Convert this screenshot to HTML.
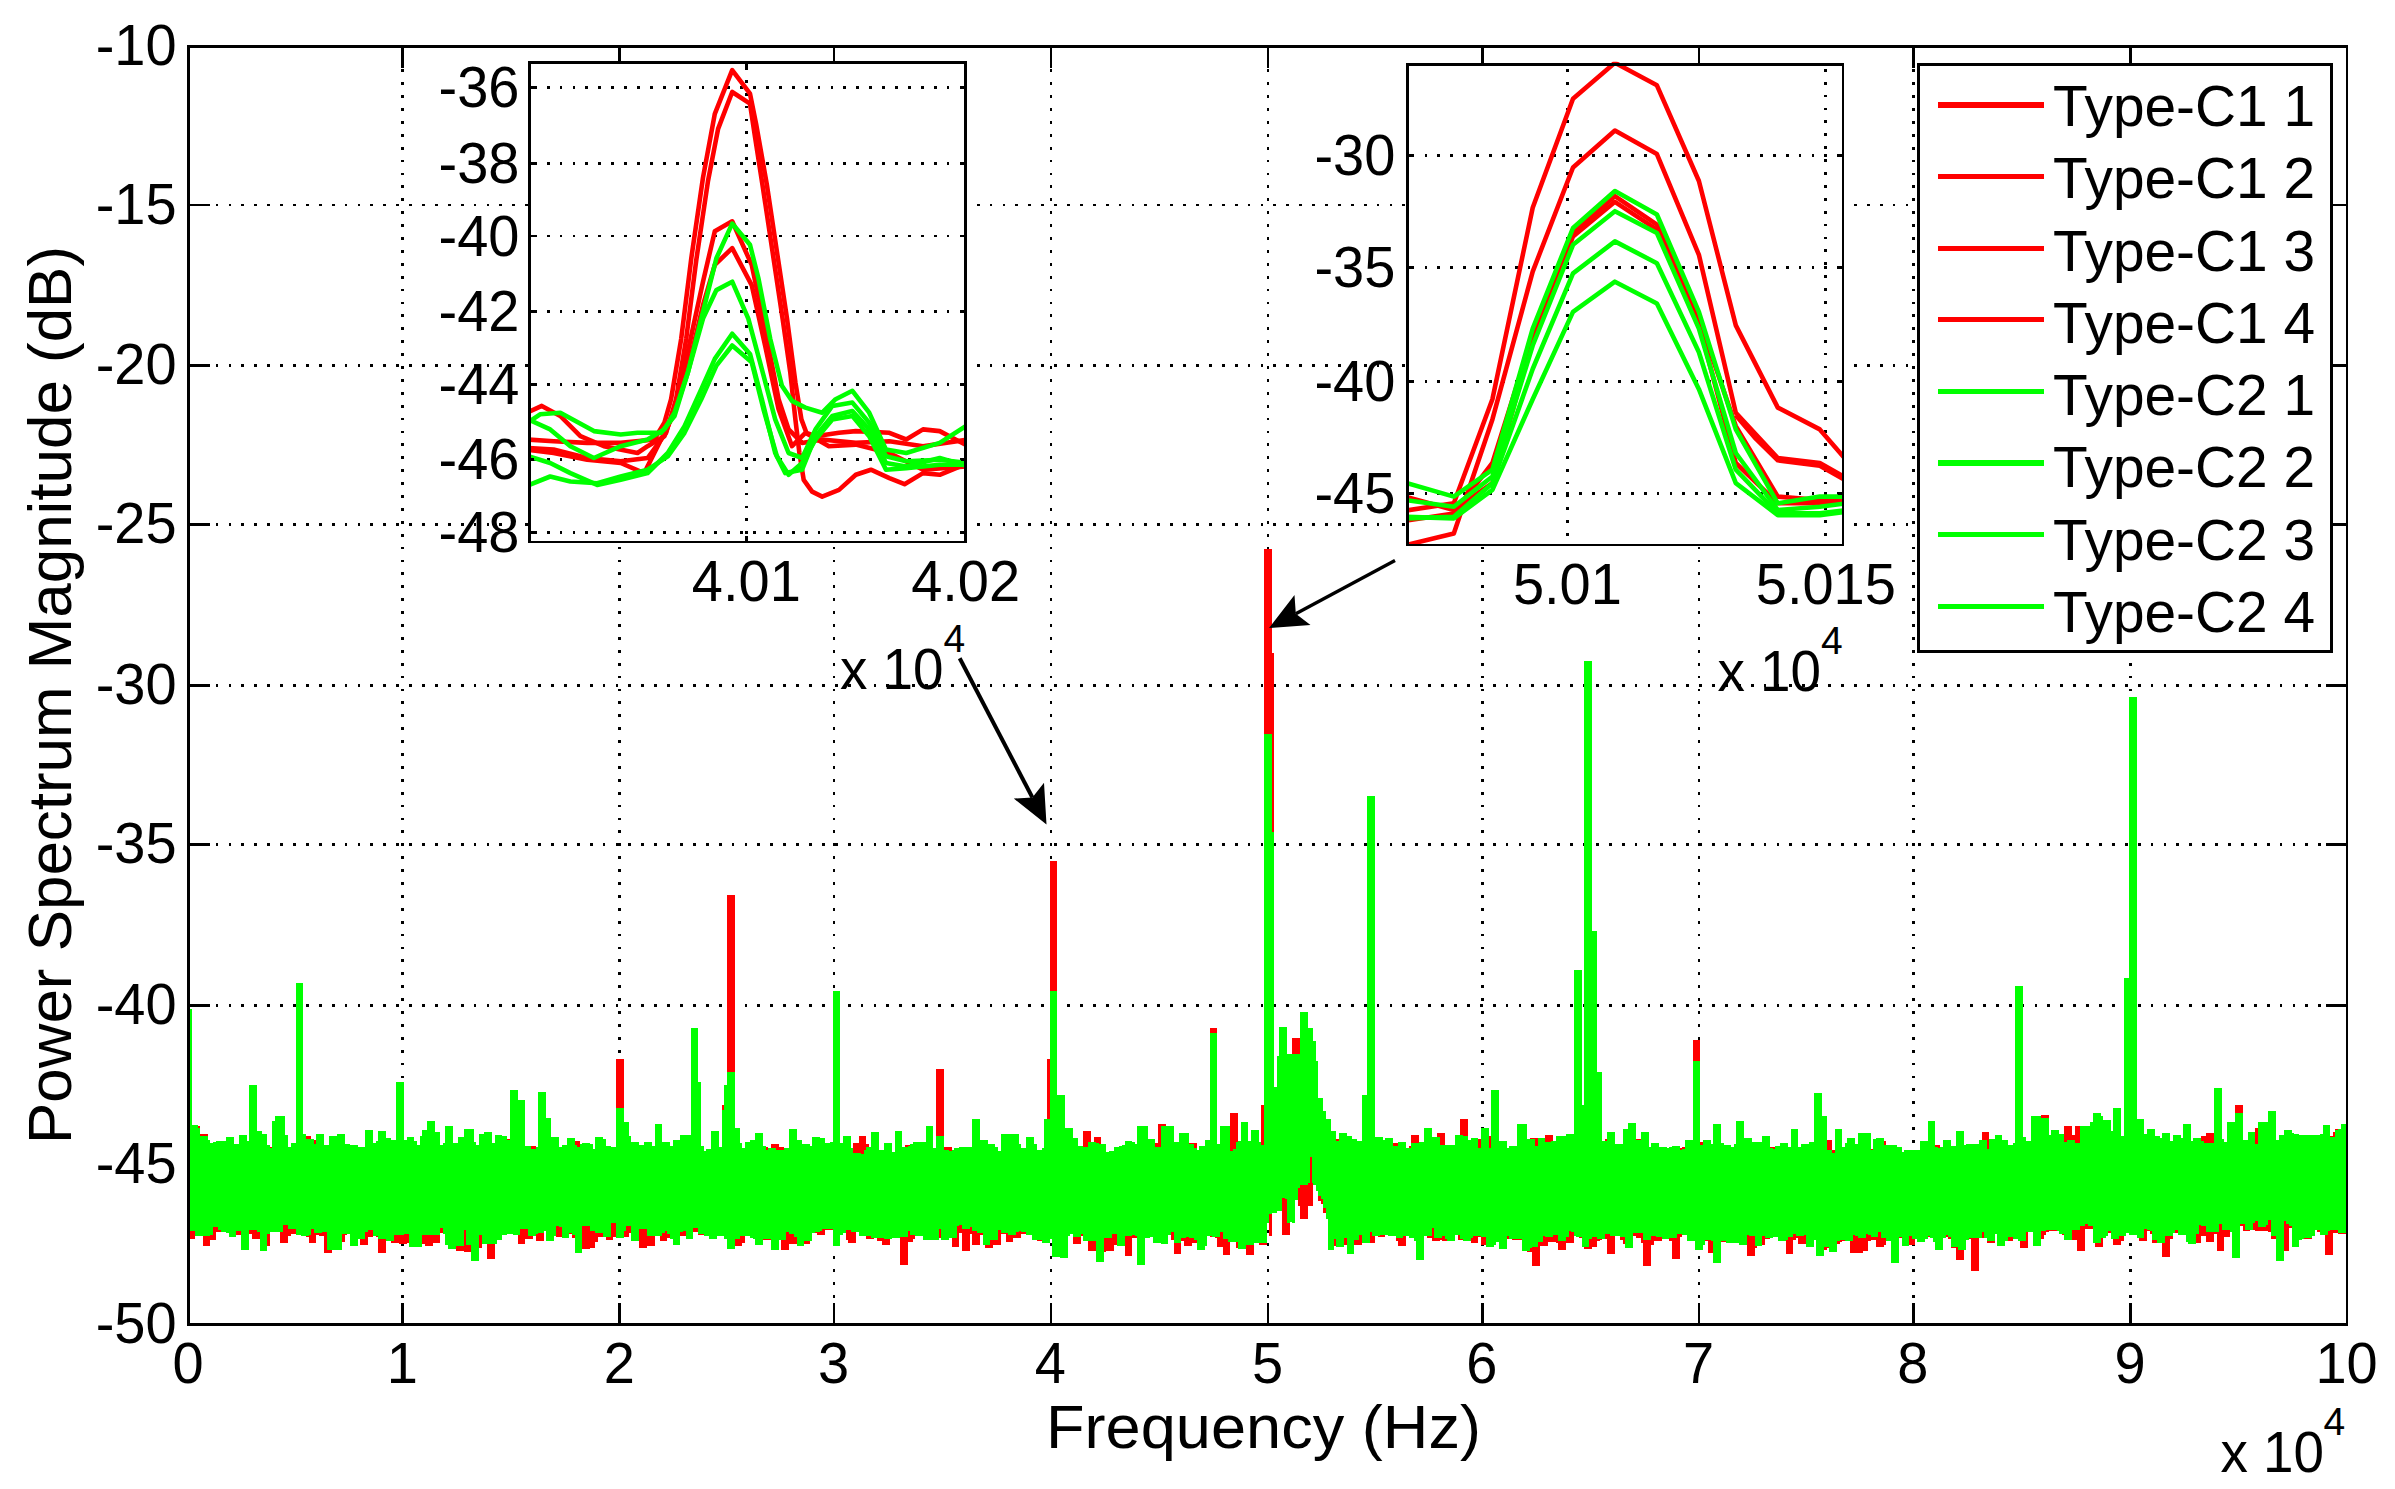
<!DOCTYPE html>
<html lang="en">
<head>
<meta charset="utf-8">
<title>Power Spectrum Magnitude</title>
<style>html,body{margin:0;padding:0;background:#fff}svg{display:block}</style>
</head>
<body>
<svg width="2395" height="1489" viewBox="0 0 2395 1489" font-family='"Liberation Sans", Arial, Helvetica, sans-serif' fill="#000">
<style>.g{stroke:#000;stroke-width:2.8;stroke-dasharray:2.8 10.1;shape-rendering:crispEdges;fill:none}.a{stroke:#000;stroke-width:2.8;shape-rendering:crispEdges;fill:none}</style>
<rect x="0" y="0" width="2395" height="1489" fill="#fff"/>
<line x1="402.7" y1="69.3" x2="402.7" y2="1300.7" class="g"/>
<line x1="619.8" y1="69.3" x2="619.8" y2="1300.7" class="g"/>
<line x1="834" y1="69.3" x2="834" y2="1300.7" class="g"/>
<line x1="1050.9" y1="69.3" x2="1050.9" y2="1300.7" class="g"/>
<line x1="1268" y1="69.3" x2="1268" y2="1300.7" class="g"/>
<line x1="1482.2" y1="69.3" x2="1482.2" y2="1300.7" class="g"/>
<line x1="1699" y1="69.3" x2="1699" y2="1300.7" class="g"/>
<line x1="1913.4" y1="69.3" x2="1913.4" y2="1300.7" class="g"/>
<line x1="2130.5" y1="69.3" x2="2130.5" y2="1300.7" class="g"/>
<line x1="215.6" y1="205" x2="2323.5" y2="205" class="g"/>
<line x1="215.6" y1="365.5" x2="2323.5" y2="365.5" class="g"/>
<line x1="215.6" y1="524.6" x2="2323.5" y2="524.6" class="g"/>
<line x1="215.6" y1="685.8" x2="2323.5" y2="685.8" class="g"/>
<line x1="215.6" y1="844.4" x2="2323.5" y2="844.4" class="g"/>
<line x1="215.6" y1="1005.3" x2="2323.5" y2="1005.3" class="g"/>
<line x1="215.6" y1="1164.3" x2="2323.5" y2="1164.3" class="g"/>
<line x1="402.7" y1="1324.2" x2="402.7" y2="1302.7" class="a"/>
<line x1="402.7" y1="46.5" x2="402.7" y2="68" class="a"/>
<line x1="619.8" y1="1324.2" x2="619.8" y2="1302.7" class="a"/>
<line x1="619.8" y1="46.5" x2="619.8" y2="68" class="a"/>
<line x1="834" y1="1324.2" x2="834" y2="1302.7" class="a"/>
<line x1="834" y1="46.5" x2="834" y2="68" class="a"/>
<line x1="1050.9" y1="1324.2" x2="1050.9" y2="1302.7" class="a"/>
<line x1="1050.9" y1="46.5" x2="1050.9" y2="68" class="a"/>
<line x1="1268" y1="1324.2" x2="1268" y2="1302.7" class="a"/>
<line x1="1268" y1="46.5" x2="1268" y2="68" class="a"/>
<line x1="1482.2" y1="1324.2" x2="1482.2" y2="1302.7" class="a"/>
<line x1="1482.2" y1="46.5" x2="1482.2" y2="68" class="a"/>
<line x1="1699" y1="1324.2" x2="1699" y2="1302.7" class="a"/>
<line x1="1699" y1="46.5" x2="1699" y2="68" class="a"/>
<line x1="1913.4" y1="1324.2" x2="1913.4" y2="1302.7" class="a"/>
<line x1="1913.4" y1="46.5" x2="1913.4" y2="68" class="a"/>
<line x1="2130.5" y1="1324.2" x2="2130.5" y2="1302.7" class="a"/>
<line x1="2130.5" y1="46.5" x2="2130.5" y2="68" class="a"/>
<line x1="188.6" y1="205" x2="210.1" y2="205" class="a"/>
<line x1="2347" y1="205" x2="2325.5" y2="205" class="a"/>
<line x1="188.6" y1="365.5" x2="210.1" y2="365.5" class="a"/>
<line x1="2347" y1="365.5" x2="2325.5" y2="365.5" class="a"/>
<line x1="188.6" y1="524.6" x2="210.1" y2="524.6" class="a"/>
<line x1="2347" y1="524.6" x2="2325.5" y2="524.6" class="a"/>
<line x1="188.6" y1="685.8" x2="210.1" y2="685.8" class="a"/>
<line x1="2347" y1="685.8" x2="2325.5" y2="685.8" class="a"/>
<line x1="188.6" y1="844.4" x2="210.1" y2="844.4" class="a"/>
<line x1="2347" y1="844.4" x2="2325.5" y2="844.4" class="a"/>
<line x1="188.6" y1="1005.3" x2="210.1" y2="1005.3" class="a"/>
<line x1="2347" y1="1005.3" x2="2325.5" y2="1005.3" class="a"/>
<line x1="188.6" y1="1164.3" x2="210.1" y2="1164.3" class="a"/>
<line x1="2347" y1="1164.3" x2="2325.5" y2="1164.3" class="a"/>
<path d="M189.8 1126 192.4 1126 192.4 1126 194.9 1126 194.9 1126 197.5 1126 197.5 1126 200.1 1126 200.1 1133.6 202.7 1133.6 202.7 1134 205.3 1134 205.3 1134 207.9 1134 207.9 1140.5 210.4 1140.5 210.4 1145 213 1145 213 1148.7 215.6 1148.7 215.6 1149.1 218.2 1149.1 218.2 1154.9 220.8 1154.9 220.8 1149.8 223.3 1149.8 223.3 1149.8 225.9 1149.8 225.9 1149.8 228.5 1149.8 228.5 1153.2 231.1 1153.2 231.1 1146 233.7 1146 233.7 1146 236.3 1146 236.3 1146 238.8 1146 238.8 1149.3 241.4 1149.3 241.4 1149.3 244 1149.3 244 1149.3 246.6 1149.3 246.6 1151.4 249.2 1151.4 249.2 1144.1 251.7 1144.1 251.7 1144.1 254.3 1144.1 254.3 1144.1 256.9 1144.1 256.9 1153.9 259.5 1153.9 259.5 1155 262.1 1155 262.1 1155 264.7 1155 264.7 1154.4 267.2 1154.4 267.2 1154.4 269.8 1154.4 269.8 1146.9 272.4 1146.9 272.4 1131 275 1131 275 1131 277.6 1131 277.6 1152.1 280.1 1152.1 280.1 1148.1 282.7 1148.1 282.7 1147.9 285.3 1147.9 285.3 1146.5 287.9 1146.5 287.9 1146.5 290.5 1146.5 290.5 1146.5 293.1 1146.5 293.1 1151.4 295.6 1151.4 295.6 1151.4 298.2 1151.4 298.2 1154.2 300.8 1154.2 300.8 1136 303.4 1136 303.4 1136 306 1136 306 1136 308.6 1136 308.6 1136 311.1 1136 311.1 1139.6 313.7 1139.6 313.7 1139.6 316.3 1139.6 316.3 1153.2 318.9 1153.2 318.9 1153.2 321.5 1153.2 321.5 1148.2 324 1148.2 324 1148.2 326.6 1148.2 326.6 1148.2 329.2 1148.2 329.2 1156.5 331.8 1156.5 331.8 1156.5 334.4 1156.5 334.4 1158.3 337 1158.3 337 1159 339.5 1159 339.5 1156.3 342.1 1156.3 342.1 1147.6 344.7 1147.6 344.7 1147.6 347.3 1147.6 347.3 1147.6 349.9 1147.6 349.9 1145.3 352.4 1145.3 352.4 1145.3 355 1145.3 355 1145.3 357.6 1145.3 357.6 1148.5 360.2 1148.5 360.2 1148.5 362.8 1148.5 362.8 1148.5 365.4 1148.5 365.4 1154.3 367.9 1154.3 367.9 1157.7 370.5 1157.7 370.5 1157.7 373.1 1157.7 373.1 1154.9 375.7 1154.9 375.7 1154.9 378.3 1154.9 378.3 1154.9 380.8 1154.9 380.8 1154.7 383.4 1154.7 383.4 1153.4 386 1153.4 386 1153.4 388.6 1153.4 388.6 1152.3 391.2 1152.3 391.2 1149.9 393.8 1149.9 393.8 1149.9 396.3 1149.9 396.3 1149.9 398.9 1149.9 398.9 1151.9 401.5 1151.9 401.5 1151.9 404.1 1151.9 404.1 1154.5 406.7 1154.5 406.7 1148.8 409.2 1148.8 409.2 1148.8 411.8 1148.8 411.8 1148.8 414.4 1148.8 414.4 1148.9 417 1148.9 417 1148.9 419.6 1148.9 419.6 1155.7 422.2 1155.7 422.2 1149.4 424.7 1149.4 424.7 1149.4 427.3 1149.4 427.3 1141.9 429.9 1141.9 429.9 1141.9 432.5 1141.9 432.5 1141.9 435.1 1141.9 435.1 1149 437.7 1149 437.7 1151 440.2 1151 440.2 1151 442.8 1151 442.8 1147.8 445.4 1147.8 445.4 1147.8 448 1147.8 448 1147.8 450.6 1147.8 450.6 1155.1 453.1 1155.1 453.1 1155.1 455.7 1155.1 455.7 1155.1 458.3 1155.1 458.3 1156.4 460.9 1156.4 460.9 1156.4 463.5 1156.4 463.5 1155.4 466.1 1155.4 466.1 1149.8 468.6 1149.8 468.6 1149.8 471.2 1149.8 471.2 1149.8 473.8 1149.8 473.8 1150.9 476.4 1150.9 476.4 1150.9 479 1150.9 479 1150.9 481.5 1150.9 481.5 1147.8 484.1 1147.8 484.1 1147.8 486.7 1147.8 486.7 1147.8 489.3 1147.8 489.3 1152.1 491.9 1152.1 491.9 1148.6 494.5 1148.6 494.5 1148.6 497 1148.6 497 1148.6 499.6 1148.6 499.6 1149.2 502.2 1149.2 502.2 1149.2 504.8 1149.2 504.8 1139.1 507.4 1139.1 507.4 1139.1 509.9 1139.1 509.9 1135.7 512.5 1135.7 512.5 1135.7 515.1 1135.7 515.1 1135.7 517.7 1135.7 517.7 1138.9 520.3 1138.9 520.3 1146.5 522.9 1146.5 522.9 1146.5 525.4 1146.5 525.4 1146.5 528 1146.5 528 1145.8 530.6 1145.8 530.6 1145.8 533.2 1145.8 533.2 1145.8 535.8 1145.8 535.8 1149.2 538.4 1149.2 538.4 1149.2 540.9 1149.2 540.9 1146.7 543.5 1146.7 543.5 1146.7 546.1 1146.7 546.1 1146.7 548.7 1146.7 548.7 1150.1 551.3 1150.1 551.3 1150.1 553.8 1150.1 553.8 1151.8 556.4 1151.8 556.4 1148.3 559 1148.3 559 1148.3 561.6 1148.3 561.6 1148.3 564.2 1148.3 564.2 1150 566.8 1150 566.8 1150 569.3 1150 569.3 1150 571.9 1150 571.9 1140.5 574.5 1140.5 574.5 1140.5 577.1 1140.5 577.1 1140.5 579.7 1140.5 579.7 1153.2 582.2 1153.2 582.2 1153.2 584.8 1153.2 584.8 1149.6 587.4 1149.6 587.4 1149.4 590 1149.4 590 1149.4 592.6 1149.4 592.6 1149.4 595.2 1149.4 595.2 1151.6 597.7 1151.6 597.7 1151.6 600.3 1151.6 600.3 1153.5 602.9 1153.5 602.9 1152 605.5 1152 605.5 1151.3 608.1 1151.3 608.1 1151.3 610.6 1151.3 610.6 1151.3 613.2 1151.3 613.2 1150 615.8 1150 615.8 1058.5 618.4 1058.5 618.4 1058.5 621 1058.5 621 1058.5 623.6 1058.5 623.6 1144.4 626.1 1144.4 626.1 1144.4 628.7 1144.4 628.7 1144.4 631.3 1144.4 631.3 1155.7 633.9 1155.7 633.9 1151.4 636.5 1151.4 636.5 1151.3 639 1151.3 639 1150.3 641.6 1150.3 641.6 1147.7 644.2 1147.7 644.2 1143.6 646.8 1143.6 646.8 1143.6 649.4 1143.6 649.4 1143.6 652 1143.6 652 1148.7 654.5 1148.7 654.5 1146.8 657.1 1146.8 657.1 1144.5 659.7 1144.5 659.7 1144.5 662.3 1144.5 662.3 1144.5 664.9 1144.5 664.9 1147.2 667.4 1147.2 667.4 1149.1 670 1149.1 670 1149.1 672.6 1149.1 672.6 1145.2 675.2 1145.2 675.2 1145.2 677.8 1145.2 677.8 1145.2 680.4 1145.2 680.4 1149 682.9 1149 682.9 1149 685.5 1149 685.5 1143.6 688.1 1143.6 688.1 1143.6 690.7 1143.6 690.7 1143.6 693.3 1143.6 693.3 1149.9 695.9 1149.9 695.9 1149.2 698.4 1149.2 698.4 1149.2 701 1149.2 701 1149.2 703.6 1149.2 703.6 1152.9 706.2 1152.9 706.2 1150.7 708.8 1150.7 708.8 1150.7 711.3 1150.7 711.3 1142.7 713.9 1142.7 713.9 1142.7 716.5 1142.7 716.5 1142.7 719.1 1142.7 719.1 1151.3 721.7 1151.3 721.7 1105 724.3 1105 724.3 1151.3 726.8 1151.3 726.8 895 729.4 895 729.4 895 732 895 732 895 734.6 895 734.6 1141.3 737.2 1141.3 737.2 1151.1 739.7 1151.1 739.7 1151.1 742.3 1151.1 742.3 1151.1 744.9 1151.1 744.9 1156.5 747.5 1156.5 747.5 1155.5 750.1 1155.5 750.1 1151.5 752.7 1151.5 752.7 1150.2 755.2 1150.2 755.2 1145 757.8 1145 757.8 1145 760.4 1145 760.4 1145 763 1145 763 1147 765.6 1147 765.6 1147 768.1 1147 768.1 1148.9 770.7 1148.9 770.7 1144.4 773.3 1144.4 773.3 1144.4 775.9 1144.4 775.9 1144.4 778.5 1144.4 778.5 1147.3 781.1 1147.3 781.1 1147.3 783.6 1147.3 783.6 1152.9 786.2 1152.9 786.2 1152.9 788.8 1152.9 788.8 1149.7 791.4 1149.7 791.4 1149.7 794 1149.7 794 1149.7 796.5 1149.7 796.5 1152 799.1 1152 799.1 1152 801.7 1152 801.7 1154.6 804.3 1154.6 804.3 1154.3 806.9 1154.3 806.9 1154.3 809.5 1154.3 809.5 1153.8 812 1153.8 812 1141.2 814.6 1141.2 814.6 1141.2 817.2 1141.2 817.2 1141.2 819.8 1141.2 819.8 1145.3 822.4 1145.3 822.4 1145.3 825 1145.3 825 1145.3 827.5 1145.3 827.5 1156 830.1 1156 830.1 1156 832.7 1156 832.7 1156.2 835.3 1156.2 835.3 1151.6 837.9 1151.6 837.9 1151.6 840.4 1151.6 840.4 1151.6 843 1151.6 843 1151.8 845.6 1151.8 845.6 1151.8 848.2 1151.8 848.2 1151.8 850.8 1151.8 850.8 1156.2 853.4 1156.2 853.4 1142.5 855.9 1142.5 855.9 1142.5 858.5 1142.5 858.5 1135.7 861.1 1135.7 861.1 1135.7 863.7 1135.7 863.7 1135.7 866.3 1135.7 866.3 1143.8 868.8 1143.8 868.8 1151.5 871.4 1151.5 871.4 1151.5 874 1151.5 874 1151.5 876.6 1151.5 876.6 1155.1 879.2 1155.1 879.2 1152.7 881.8 1152.7 881.8 1151.8 884.3 1151.8 884.3 1151.8 886.9 1151.8 886.9 1151.8 889.5 1151.8 889.5 1155.6 892.1 1155.6 892.1 1155.6 894.7 1155.6 894.7 1143.5 897.2 1143.5 897.2 1143.5 899.8 1143.5 899.8 1143.5 902.4 1143.5 902.4 1150.7 905 1150.7 905 1145.3 907.6 1145.3 907.6 1145.3 910.2 1145.3 910.2 1145.3 912.7 1145.3 912.7 1153.2 915.3 1153.2 915.3 1152.3 917.9 1152.3 917.9 1152.3 920.5 1152.3 920.5 1150.2 923.1 1150.2 923.1 1148 925.6 1148 925.6 1148 928.2 1148 928.2 1148 930.8 1148 930.8 1153.5 933.4 1153.5 933.4 1153.5 936 1153.5 936 1069 938.6 1069 938.6 1069 941.1 1069 941.1 1069 943.7 1069 943.7 1146.9 946.3 1146.9 946.3 1146.9 948.9 1146.9 948.9 1146.9 951.5 1146.9 951.5 1149.5 954.1 1149.5 954.1 1152.4 956.6 1152.4 956.6 1157.7 959.2 1157.7 959.2 1157.7 961.8 1157.7 961.8 1157.9 964.4 1157.9 964.4 1157.9 967 1157.9 967 1157.9 969.5 1157.9 969.5 1157.9 972.1 1157.9 972.1 1158.5 974.7 1158.5 974.7 1153.5 977.3 1153.5 977.3 1153.5 979.9 1153.5 979.9 1143.8 982.5 1143.8 982.5 1143.8 985 1143.8 985 1143.8 987.6 1143.8 987.6 1148.4 990.2 1148.4 990.2 1148.4 992.8 1148.4 992.8 1148.4 995.4 1148.4 995.4 1150.6 997.9 1150.6 997.9 1150.6 1000.5 1150.6 1000.5 1150.6 1003.1 1150.6 1003.1 1150.6 1005.7 1150.6 1005.7 1156.5 1008.3 1156.5 1008.3 1154 1010.9 1154 1010.9 1154 1013.4 1154 1013.4 1154 1016 1154 1016 1156.7 1018.6 1156.7 1018.6 1156.7 1021.2 1156.7 1021.2 1158.9 1023.8 1158.9 1023.8 1152.9 1026.3 1152.9 1026.3 1152.9 1028.9 1152.9 1028.9 1152.9 1031.5 1152.9 1031.5 1152.2 1034.1 1152.2 1034.1 1152.2 1036.7 1152.2 1036.7 1150.7 1039.3 1150.7 1039.3 1150.7 1041.8 1150.7 1041.8 1150.7 1044.4 1150.7 1044.4 1154.6 1047 1154.6 1047 1058.5 1049.6 1058.5 1049.6 861 1052.2 861 1052.2 861 1054.8 861 1054.8 861 1057.3 861 1057.3 1158.5 1059.9 1158.5 1059.9 1158 1062.5 1158 1062.5 1155.8 1065.1 1155.8 1065.1 1149.4 1067.7 1149.4 1067.7 1149.4 1070.2 1149.4 1070.2 1149.4 1072.8 1149.4 1072.8 1148.9 1075.4 1148.9 1075.4 1148.9 1078 1148.9 1078 1148.9 1080.6 1148.9 1080.6 1150.6 1083.2 1150.6 1083.2 1131 1085.7 1131 1085.7 1131 1088.3 1131 1088.3 1131 1090.9 1131 1090.9 1148.7 1093.5 1148.7 1093.5 1136.7 1096.1 1136.7 1096.1 1136.7 1098.6 1136.7 1098.6 1136.7 1101.2 1136.7 1101.2 1151.3 1103.8 1151.3 1103.8 1155.2 1106.4 1155.2 1106.4 1154.3 1109 1154.3 1109 1153 1111.6 1153 1111.6 1151.7 1114.1 1151.7 1114.1 1151.7 1116.7 1151.7 1116.7 1151.7 1119.3 1151.7 1119.3 1158.2 1121.9 1158.2 1121.9 1158.2 1124.5 1158.2 1124.5 1158.2 1127 1158.2 1127 1150.3 1129.6 1150.3 1129.6 1150.3 1132.2 1150.3 1132.2 1150.3 1134.8 1150.3 1134.8 1154 1137.4 1154 1137.4 1158.1 1140 1158.1 1140 1156 1142.5 1156 1142.5 1156 1145.1 1156 1145.1 1156 1147.7 1156 1147.7 1154.7 1150.3 1154.7 1150.3 1154.1 1152.9 1154.1 1152.9 1152.6 1155.4 1152.6 1155.4 1143.2 1158 1143.2 1158 1123.5 1160.6 1123.5 1160.6 1123.5 1163.2 1123.5 1163.2 1123.5 1165.8 1123.5 1165.8 1153.8 1168.4 1153.8 1168.4 1154.4 1170.9 1154.4 1170.9 1154.4 1173.5 1154.4 1173.5 1156.5 1176.1 1156.5 1176.1 1156.1 1178.7 1156.1 1178.7 1150.6 1181.3 1150.6 1181.3 1150.6 1183.9 1150.6 1183.8 1150.6 1186.4 1150.6 1186.4 1152.6 1189 1152.6 1189 1143.4 1191.6 1143.4 1191.6 1143.4 1194.2 1143.4 1194.2 1143.4 1196.8 1143.4 1196.8 1152.2 1199.3 1152.2 1199.3 1153.5 1201.9 1153.5 1201.9 1158.2 1204.5 1158.2 1204.5 1158.2 1207.1 1158.2 1207.1 1158.1 1209.7 1158.1 1209.7 1027.5 1212.3 1027.5 1212.3 1027.5 1214.8 1027.5 1214.8 1027.5 1217.4 1027.5 1217.4 1154.2 1220 1154.2 1220 1149.1 1222.6 1149.1 1222.6 1149.1 1225.2 1149.1 1225.2 1149.1 1227.7 1149.1 1227.7 1150.9 1230.3 1150.9 1230.3 1113.2 1232.9 1113.2 1232.9 1113.2 1235.5 1113.2 1235.5 1113.2 1238.1 1113.2 1238.1 1150.1 1240.7 1150.1 1240.7 1152.6 1243.2 1152.6 1243.2 1151.6 1245.8 1151.6 1245.8 1151.6 1248.4 1151.6 1248.4 1146.8 1251 1146.8 1251 1146.8 1253.6 1146.8 1253.6 1146.8 1256.1 1146.8 1256.1 1154.2 1258.7 1154.2 1258.7 1150.9 1261.3 1150.9 1261.3 1105 1263.9 1105 1263.9 549 1266.5 549 1266.5 549 1269.1 549 1269.1 549 1271.6 549 1271.6 653 1274.2 653 1274.2 1135.1 1276.8 1135.1 1276.8 1135.1 1279.4 1135.1 1279.4 1135.1 1282 1135.1 1282 1151.2 1284.5 1151.2 1284.5 1153.6 1287.1 1153.6 1287.1 1154.9 1289.7 1154.9 1289.7 1153.2 1292.3 1153.2 1292.3 1037.9 1294.9 1037.9 1294.9 1037.9 1297.5 1037.9 1297.5 1037.9 1300 1037.9 1300 1138.3 1302.6 1138.3 1302.6 1138.3 1305.2 1138.3 1305.2 1138.3 1307.8 1138.3 1307.8 1149.9 1310.4 1149.9 1310.4 1149.9 1313 1149.9 1312.9 1152.9 1315.5 1152.9 1315.5 1152.9 1318.1 1152.9 1318.1 1153.7 1320.7 1153.7 1320.7 1153.7 1323.3 1153.7 1323.3 1150.7 1325.9 1150.7 1325.9 1150.7 1328.4 1150.7 1328.4 1149.2 1331 1149.2 1331 1139.3 1333.6 1139.3 1333.6 1139.3 1336.2 1139.3 1336.2 1139.3 1338.8 1139.3 1338.8 1142.1 1341.4 1142.1 1341.4 1142.6 1343.9 1142.6 1343.9 1142.6 1346.5 1142.6 1346.5 1146.1 1349.1 1146.1 1349.1 1148.5 1351.7 1148.5 1351.7 1148.5 1354.3 1148.5 1354.3 1148.8 1356.8 1148.8 1356.8 1149 1359.4 1149 1359.4 1149 1362 1149 1362 1145 1364.6 1145 1364.6 1145 1367.2 1145 1367.2 1145 1369.8 1145 1369.8 1147.1 1372.3 1147.1 1372.3 1147.1 1374.9 1147.1 1374.9 1147.5 1377.5 1147.5 1377.5 1147.5 1380.1 1147.5 1380.1 1147.8 1382.7 1147.8 1382.7 1145.9 1385.2 1145.9 1385.2 1145.9 1387.8 1145.9 1387.8 1145.9 1390.4 1145.9 1390.4 1143.1 1393 1143.1 1393 1143.1 1395.6 1143.1 1395.6 1143.1 1398.2 1143.1 1398.2 1149.6 1400.7 1149.6 1400.7 1149.6 1403.3 1149.6 1403.3 1153.1 1405.9 1153.1 1405.9 1151.4 1408.5 1151.4 1408.5 1145.7 1411.1 1145.7 1411.1 1135 1413.6 1135 1413.6 1135 1416.2 1135 1416.2 1135 1418.8 1135 1418.8 1152.9 1421.4 1152.9 1421.4 1152.9 1424 1152.9 1424 1155.3 1426.6 1155.3 1426.6 1155.5 1429.1 1155.5 1429.1 1148.8 1431.7 1148.8 1431.7 1148.8 1434.3 1148.8 1434.3 1148.8 1436.9 1148.8 1436.9 1133 1439.5 1133 1439.5 1133 1442 1133 1442 1133 1444.6 1133 1444.6 1147.1 1447.2 1147.1 1447.2 1147.1 1449.8 1147.1 1449.8 1147.1 1452.4 1147.1 1452.4 1148.7 1455 1148.7 1455 1141.3 1457.5 1141.3 1457.5 1141.3 1460.1 1141.3 1460.1 1119.2 1462.7 1119.2 1462.7 1119.2 1465.3 1119.2 1465.3 1119.2 1467.9 1119.2 1467.9 1143.1 1470.5 1143.1 1470.5 1143.1 1473 1143.1 1473 1141.9 1475.6 1141.9 1475.6 1141.9 1478.2 1141.9 1478.2 1138.5 1480.8 1138.5 1480.8 1138.5 1483.4 1138.5 1483.4 1138.5 1485.9 1138.5 1485.9 1144.2 1488.5 1144.2 1488.5 1135.7 1491.1 1135.7 1491.1 1135.7 1493.7 1135.7 1493.7 1135.7 1496.3 1135.7 1496.3 1148.9 1498.9 1148.9 1498.9 1145.6 1501.4 1145.6 1501.4 1145.6 1504 1145.6 1504 1145.6 1506.6 1145.6 1506.6 1155.8 1509.2 1155.8 1509.2 1155.8 1511.8 1155.8 1511.8 1148.3 1514.3 1148.3 1514.3 1148.3 1516.9 1148.3 1516.9 1148.3 1519.5 1148.3 1519.5 1152.7 1522.1 1152.7 1522.1 1148.8 1524.7 1148.8 1524.7 1148.8 1527.3 1148.8 1527.3 1148.8 1529.8 1148.8 1529.8 1137.8 1532.4 1137.8 1532.4 1137.8 1535 1137.8 1535 1137.8 1537.6 1137.8 1537.6 1151.1 1540.2 1151.1 1540.2 1150.5 1542.7 1150.5 1542.7 1138.9 1545.3 1138.9 1545.3 1135.2 1547.9 1135.2 1547.9 1135.2 1550.5 1135.2 1550.5 1135.2 1553.1 1135.2 1553.1 1150.6 1555.7 1150.6 1555.7 1144.9 1558.2 1144.9 1558.2 1144.9 1560.8 1144.9 1560.8 1144.9 1563.4 1144.9 1563.4 1152 1566 1152 1566 1153.8 1568.6 1153.8 1568.6 1153.8 1571.2 1153.8 1571.1 1151.7 1573.7 1151.7 1573.7 1150.2 1576.3 1150.2 1576.3 1150.2 1578.9 1150.2 1578.9 1142.6 1581.5 1142.6 1581.5 1142.6 1584.1 1142.6 1584.1 1142.6 1586.6 1142.6 1586.6 1143.4 1589.2 1143.4 1589.2 1143.4 1591.8 1143.4 1591.8 1143.4 1594.4 1143.4 1594.4 1145.3 1597 1145.3 1597 1140.5 1599.6 1140.5 1599.6 1140.5 1602.1 1140.5 1602.1 1140.5 1604.7 1140.5 1604.7 1139.4 1607.3 1139.4 1607.3 1139.4 1609.9 1139.4 1609.9 1139.4 1612.5 1139.4 1612.5 1144.2 1615 1144.2 1615 1144.5 1617.6 1144.5 1617.6 1144.5 1620.2 1144.5 1620.2 1147.5 1622.8 1147.5 1622.8 1153.3 1625.4 1153.3 1625.4 1153.8 1628 1153.8 1628 1153.8 1630.5 1153.8 1630.5 1154.7 1633.1 1154.7 1633.1 1151.1 1635.7 1151.1 1635.7 1139 1638.3 1139 1638.3 1139 1640.9 1139 1640.9 1139 1643.4 1139 1643.4 1148.4 1646 1148.4 1646 1148.4 1648.6 1148.4 1648.6 1150.1 1651.2 1150.1 1651.2 1150.1 1653.8 1150.1 1653.8 1150.1 1656.4 1150.1 1656.4 1152 1658.9 1152 1658.9 1153.8 1661.5 1153.8 1661.5 1149.7 1664.1 1149.7 1664.1 1149.7 1666.7 1149.7 1666.7 1148.7 1669.3 1148.7 1669.3 1148.7 1671.8 1148.7 1671.8 1148.4 1674.4 1148.4 1674.4 1148.4 1677 1148.4 1677 1148.4 1679.6 1148.4 1679.6 1147.8 1682.2 1147.8 1682.2 1147.4 1684.8 1147.4 1684.8 1147.4 1687.3 1147.4 1687.3 1146.3 1689.9 1146.3 1689.9 1146.3 1692.5 1146.3 1692.5 1040.2 1695.1 1040.2 1695.1 1040.2 1697.7 1040.2 1697.7 1040.2 1700.2 1040.2 1700.2 1142.1 1702.8 1142.1 1702.8 1147.2 1705.4 1147.2 1705.4 1147.2 1708 1147.2 1708 1147.4 1710.6 1147.4 1710.6 1148.1 1713.2 1148.1 1713.2 1148.1 1715.7 1148.1 1715.7 1151.1 1718.3 1151.1 1718.3 1145.4 1720.9 1145.4 1720.9 1145.4 1723.5 1145.4 1723.5 1145.4 1726.1 1145.4 1726.1 1146 1728.7 1146 1728.7 1146 1731.2 1146 1731.2 1146.5 1733.8 1146.5 1733.8 1153.6 1736.4 1153.6 1736.4 1153.6 1739 1153.6 1739 1154.6 1741.6 1154.6 1741.6 1156 1744.1 1156 1744.1 1156 1746.7 1156 1746.7 1155.5 1749.3 1155.5 1749.3 1155.5 1751.9 1155.5 1751.9 1155.5 1754.5 1155.5 1754.5 1156.4 1757.1 1156.4 1757.1 1156.4 1759.6 1156.4 1759.6 1157.2 1762.2 1157.2 1762.2 1155 1764.8 1155 1764.8 1154.5 1767.4 1154.5 1767.4 1151.6 1770 1151.6 1770 1147.1 1772.5 1147.1 1772.5 1147.1 1775.1 1147.1 1775.1 1147.1 1777.7 1147.1 1777.7 1152.3 1780.3 1152.3 1780.3 1154.6 1782.9 1154.6 1782.9 1154.6 1785.5 1154.6 1785.5 1154.6 1788 1154.6 1788 1149.1 1790.6 1149.1 1790.6 1149.1 1793.2 1149.1 1793.2 1149.1 1795.8 1149.1 1795.8 1154.6 1798.4 1154.6 1798.4 1149.4 1800.9 1149.4 1800.9 1149.4 1803.5 1149.4 1803.5 1149.4 1806.1 1149.4 1806.1 1148.4 1808.7 1148.4 1808.7 1148.4 1811.3 1148.4 1811.3 1148.4 1813.9 1148.4 1813.9 1152.8 1816.4 1152.8 1816.4 1152.8 1819 1152.8 1819 1147.6 1821.6 1147.6 1821.6 1147.6 1824.2 1147.6 1824.2 1140 1826.8 1140 1826.8 1140 1829.3 1140 1829.3 1140 1831.9 1140 1831.9 1150.2 1834.5 1150.2 1834.5 1150.2 1837.1 1150.2 1837.1 1156.6 1839.7 1156.6 1839.7 1156.6 1842.3 1156.6 1842.3 1158.8 1844.8 1158.8 1844.8 1148.3 1847.4 1148.3 1847.4 1148.3 1850 1148.3 1850 1148.3 1852.6 1148.3 1852.6 1152.4 1855.2 1152.4 1855.2 1154.4 1857.8 1154.4 1857.8 1150.3 1860.3 1150.3 1860.3 1150.3 1862.9 1150.3 1862.9 1150.3 1865.5 1150.3 1865.5 1149.3 1868.1 1149.3 1868.1 1149.3 1870.7 1149.3 1870.7 1149.3 1873.2 1149.3 1873.2 1150.7 1875.8 1150.7 1875.8 1150.7 1878.4 1150.7 1878.4 1140.5 1881 1140.5 1881 1140.5 1883.6 1140.5 1883.6 1140.5 1886.2 1140.5 1886.2 1155.1 1888.7 1155.1 1888.7 1155.1 1891.3 1155.1 1891.3 1154.5 1893.9 1154.5 1893.9 1154.5 1896.5 1154.5 1896.5 1154.5 1899.1 1154.5 1899.1 1154.6 1901.6 1154.6 1901.6 1154.6 1904.2 1154.6 1904.2 1154.6 1906.8 1154.6 1906.8 1155.9 1909.4 1155.9 1909.4 1159.5 1912 1159.5 1912 1155 1914.6 1155 1914.6 1155 1917.1 1155 1917.1 1155 1919.7 1155 1919.7 1156.4 1922.3 1156.4 1922.3 1157.7 1924.9 1157.7 1924.9 1156.8 1927.5 1156.8 1927.5 1156.1 1930 1156.1 1930 1152.9 1932.6 1152.9 1932.6 1144.6 1935.2 1144.6 1935.2 1144.6 1937.8 1144.6 1937.8 1144.6 1940.4 1144.6 1940.4 1154 1943 1154 1943 1154 1945.5 1154 1945.5 1154.1 1948.1 1154.1 1948.1 1150.4 1950.7 1150.4 1950.7 1150.4 1953.3 1150.4 1953.3 1150.4 1955.9 1150.4 1955.9 1155.9 1958.5 1155.9 1958.4 1147.8 1961 1147.8 1961 1147.8 1963.6 1147.8 1963.6 1147.8 1966.2 1147.8 1966.2 1149.2 1968.8 1149.2 1968.8 1149.2 1971.4 1149.2 1971.4 1149.5 1973.9 1149.5 1973.9 1144.8 1976.5 1144.8 1976.5 1144.8 1979.1 1144.8 1979.1 1144.8 1981.7 1144.8 1981.7 1131.6 1984.3 1131.6 1984.3 1131.6 1986.9 1131.6 1986.9 1131.6 1989.4 1131.6 1989.4 1150.2 1992 1150.2 1992 1146.7 1994.6 1146.7 1994.6 1146.7 1997.2 1146.7 1997.2 1146.7 1999.8 1146.7 1999.8 1152.2 2002.3 1152.2 2002.3 1152.2 2004.9 1152.2 2004.9 1152.7 2007.5 1152.7 2007.5 1149.6 2010.1 1149.6 2010.1 1149.2 2012.7 1149.2 2012.7 1147.1 2015.3 1147.1 2015.3 1147.1 2017.8 1147.1 2017.8 1137 2020.4 1137 2020.4 1137 2023 1137 2023 1137 2025.6 1137 2025.6 1146.7 2028.2 1146.7 2028.2 1149.3 2030.7 1149.3 2030.7 1152.7 2033.3 1152.7 2033.3 1152.7 2035.9 1152.7 2035.9 1155 2038.5 1155 2038.5 1155 2041.1 1155 2041.1 1115 2043.7 1115 2043.7 1115 2046.2 1115 2046.2 1115 2048.8 1115 2048.8 1147.8 2051.4 1147.8 2051.4 1147.8 2054 1147.8 2054 1147.8 2056.6 1147.8 2056.6 1143 2059.1 1143 2059.1 1143 2061.7 1143 2061.7 1143 2064.3 1143 2064.3 1126 2066.9 1126 2066.9 1126 2069.5 1126 2069.5 1126 2072.1 1126 2072.1 1134.5 2074.6 1134.5 2074.6 1126 2077.2 1126 2077.2 1126 2079.8 1126 2079.8 1145.1 2082.4 1145.1 2082.4 1144.2 2085 1144.2 2085 1144.2 2087.5 1144.2 2087.6 1144.2 2090.1 1144.2 2090.1 1142.5 2092.7 1142.5 2092.7 1142.5 2095.3 1142.5 2095.3 1142.5 2097.9 1142.5 2097.9 1145 2100.5 1145 2100.5 1145 2103 1145 2103 1145.5 2105.6 1145.5 2105.6 1145.5 2108.2 1145.5 2108.2 1137.3 2110.8 1137.3 2110.8 1137.3 2113.4 1137.3 2113.4 1137.3 2116 1137.3 2116 1147.2 2118.5 1147.2 2118.5 1146.2 2121.1 1146.2 2121.1 1143.5 2123.7 1143.5 2123.7 1135.9 2126.3 1135.9 2126.3 1134.2 2128.9 1134.2 2128.9 1134.2 2131.4 1134.2 2131.4 1134.2 2134 1134.2 2134 1140.9 2136.6 1140.9 2136.6 1141.4 2139.2 1141.4 2139.2 1137.9 2141.8 1137.9 2141.8 1137.9 2144.4 1137.9 2144.4 1137.9 2146.9 1137.9 2146.9 1144 2149.5 1144 2149.5 1143.7 2152.1 1143.7 2152.1 1139.8 2154.7 1139.8 2154.7 1139.8 2157.3 1139.8 2157.3 1139.8 2159.8 1139.8 2159.8 1146.5 2162.4 1146.5 2162.4 1142.6 2165 1142.6 2165 1142.6 2167.6 1142.6 2167.6 1142.6 2170.2 1142.6 2170.2 1143.6 2172.8 1143.6 2172.8 1140.1 2175.3 1140.1 2175.3 1140.1 2177.9 1140.1 2177.9 1140.1 2180.5 1140.1 2180.5 1144.6 2183.1 1144.6 2183.1 1144.6 2185.7 1144.6 2185.7 1144.6 2188.2 1144.6 2188.2 1145.5 2190.8 1145.5 2190.8 1145.6 2193.4 1145.6 2193.4 1142.7 2196 1142.7 2196 1142.7 2198.6 1142.7 2198.6 1140.9 2201.2 1140.9 2201.2 1135.9 2203.7 1135.9 2203.7 1135.9 2206.3 1135.9 2206.3 1133.4 2208.9 1133.4 2208.9 1133.4 2211.5 1133.4 2211.5 1133.4 2214.1 1133.4 2214.1 1144.4 2216.6 1144.4 2216.7 1140.2 2219.2 1140.2 2219.2 1140.2 2221.8 1140.2 2221.8 1140.2 2224.4 1140.2 2224.4 1145.4 2227 1145.4 2227 1139.1 2229.6 1139.1 2229.6 1139.1 2232.1 1139.1 2232.1 1139.1 2234.7 1139.1 2234.7 1105.4 2237.3 1105.4 2237.3 1105.4 2239.9 1105.4 2239.9 1105.4 2242.5 1105.4 2242.5 1147.5 2245.1 1147.5 2245.1 1151.7 2247.6 1151.7 2247.6 1151.7 2250.2 1151.7 2250.2 1151.3 2252.8 1151.3 2252.8 1151.3 2255.4 1151.3 2255.4 1127.9 2258 1127.9 2258 1127.9 2260.5 1127.9 2260.5 1127.9 2263.1 1127.9 2263.1 1148.3 2265.7 1148.3 2265.7 1141.2 2268.3 1141.2 2268.3 1141.2 2270.9 1141.2 2270.9 1141.2 2273.5 1141.2 2273.5 1148.1 2276 1148.1 2276 1149.2 2278.6 1149.2 2278.6 1149.8 2281.2 1149.8 2281.2 1143.2 2283.8 1143.2 2283.8 1143.2 2286.4 1143.2 2286.4 1143.2 2288.9 1143.2 2288.9 1149 2291.5 1149 2291.5 1149.4 2294.1 1149.4 2294.1 1150.6 2296.7 1150.6 2296.7 1150.6 2299.3 1150.6 2299.3 1148.3 2301.9 1148.3 2301.9 1148.3 2304.4 1148.3 2304.4 1148.3 2307 1148.3 2307 1145.9 2309.6 1145.9 2309.6 1145.9 2312.2 1145.9 2312.2 1137.5 2314.8 1137.5 2314.8 1137.5 2317.3 1137.5 2317.3 1137.5 2319.9 1137.5 2319.9 1142.9 2322.5 1142.9 2322.5 1141.1 2325.1 1141.1 2325.1 1140.8 2327.7 1140.8 2327.7 1140.5 2330.3 1140.5 2330.3 1135.7 2332.8 1135.7 2332.8 1131.8 2335.4 1131.8 2335.4 1129.2 2338 1129.2 2338 1129.2 2340.6 1129.2 2340.6 1129.2 2343.2 1129.2 2343.2 1130.4 2345.8 1130.4 2345.8 1234.3 2343.2 1234.3 2343.2 1234.3 2340.6 1234.3 2340.6 1234.3 2338 1234.3 2338 1232.8 2335.4 1232.8 2335.4 1232.8 2332.8 1232.8 2332.8 1255 2330.3 1255 2330.3 1255 2327.7 1255 2327.7 1255 2325.1 1255 2325.1 1231.9 2322.5 1231.9 2322.5 1231.9 2319.9 1231.9 2319.9 1231.9 2317.3 1231.9 2317.3 1230 2314.8 1230 2314.8 1229.1 2312.2 1229.1 2312.2 1238.5 2309.6 1238.5 2309.6 1238.5 2307 1238.5 2307 1238.5 2304.4 1238.5 2304.4 1233.8 2301.9 1233.8 2301.9 1233.8 2299.3 1233.8 2299.3 1229.7 2296.7 1229.7 2296.7 1227.9 2294.1 1227.9 2294.1 1227.6 2291.5 1227.6 2291.5 1227.6 2288.9 1227.6 2288.9 1250.8 2286.4 1250.8 2286.4 1250.8 2283.8 1250.8 2283.8 1250.8 2281.2 1250.8 2281.2 1233 2278.6 1233 2278.6 1239.1 2276 1239.1 2276 1239.1 2273.5 1239.1 2273.5 1239.1 2270.9 1239.1 2270.9 1231.9 2268.3 1231.9 2268.3 1230.5 2265.7 1230.5 2265.7 1230.5 2263.1 1230.5 2263.1 1230.6 2260.5 1230.6 2260.5 1230.6 2258 1230.6 2258 1230.6 2255.4 1230.6 2255.4 1229.9 2252.8 1229.9 2252.8 1230.2 2250.2 1230.2 2250.2 1231.3 2247.6 1231.3 2247.6 1231.3 2245.1 1231.3 2245.1 1231.3 2242.5 1231.3 2242.5 1226.1 2239.9 1226.1 2239.9 1226.1 2237.3 1226.1 2237.3 1226.1 2234.7 1226.1 2234.7 1223.7 2232.1 1223.7 2232.1 1228.5 2229.6 1228.5 2229.6 1236.7 2227 1236.7 2227 1236.7 2224.4 1236.7 2224.4 1251.3 2221.8 1251.3 2221.8 1251.3 2219.2 1251.3 2219.2 1251.3 2216.7 1251.3 2216.6 1233.6 2214.1 1233.6 2214.1 1241.9 2211.5 1241.9 2211.5 1241.9 2208.9 1241.9 2208.9 1241.9 2206.3 1241.9 2206.3 1235.6 2203.7 1235.6 2203.7 1235.6 2201.2 1235.6 2201.2 1242.7 2198.6 1242.7 2198.6 1242.7 2196 1242.7 2196 1242.7 2193.4 1242.7 2193.4 1234.5 2190.8 1234.5 2190.8 1234.5 2188.2 1234.5 2188.2 1232.2 2185.7 1232.2 2185.7 1232.2 2183.1 1232.2 2183.1 1232.5 2180.5 1232.5 2180.5 1232.5 2177.9 1232.5 2177.9 1232.5 2175.3 1232.5 2175.3 1229.1 2172.8 1229.1 2172.8 1239 2170.2 1239 2170.2 1257.2 2167.6 1257.2 2167.6 1257.2 2165 1257.2 2165 1257.2 2162.4 1257.2 2162.4 1233 2159.8 1233 2159.8 1242.6 2157.3 1242.6 2157.3 1242.6 2154.7 1242.6 2154.7 1242.6 2152.1 1242.6 2152.1 1233.8 2149.5 1233.8 2149.5 1231.1 2146.9 1231.1 2146.9 1241.2 2144.4 1241.2 2144.4 1241.2 2141.8 1241.2 2141.8 1241.2 2139.2 1241.2 2139.2 1228.3 2136.6 1228.3 2136.6 1227 2134 1227 2134 1227 2131.4 1227 2131.4 1227.2 2128.9 1227.2 2128.9 1227.2 2126.3 1227.2 2126.3 1227.2 2123.7 1227.2 2123.7 1241.3 2121.1 1241.3 2121.1 1245.3 2118.5 1245.3 2118.5 1245.3 2116 1245.3 2116 1245.3 2113.4 1245.3 2113.4 1233.1 2110.8 1233.1 2110.8 1233.1 2108.2 1233.1 2108.2 1232.4 2105.6 1232.4 2105.6 1232.4 2103 1232.4 2103 1247 2100.5 1247 2100.5 1247 2097.9 1247 2097.9 1247 2095.3 1247 2095.3 1224.6 2092.7 1224.6 2092.7 1229.2 2090.1 1229.2 2090.1 1229.2 2087.6 1229.2 2087.5 1229.2 2085 1229.2 2085 1251 2082.4 1251 2082.4 1251 2079.8 1251 2079.8 1251 2077.2 1251 2077.2 1240.4 2074.6 1240.4 2074.6 1240.4 2072.1 1240.4 2072.1 1240.4 2069.5 1240.4 2069.5 1238.1 2066.9 1238.1 2066.9 1235.3 2064.3 1235.3 2064.3 1235.3 2061.7 1235.3 2061.7 1229.1 2059.1 1229.1 2059.1 1229.1 2056.6 1229.1 2056.6 1230.9 2054 1230.9 2054 1231.1 2051.4 1231.1 2051.4 1231.3 2048.8 1231.3 2048.8 1232 2046.2 1232 2046.2 1234.8 2043.7 1234.8 2043.7 1238.5 2041.1 1238.5 2041.1 1238.5 2038.5 1238.5 2038.5 1238.5 2035.9 1238.5 2035.9 1237.8 2033.3 1237.8 2033.3 1231.4 2030.7 1231.4 2030.7 1231.4 2028.2 1231.4 2028.2 1248.3 2025.6 1248.3 2025.6 1248.3 2023 1248.3 2023 1248.3 2020.4 1248.3 2020.4 1234.3 2017.8 1234.3 2017.8 1234.3 2015.3 1234.3 2015.3 1232.7 2012.7 1232.7 2012.7 1240.9 2010.1 1240.9 2010.1 1240.9 2007.5 1240.9 2007.5 1240.9 2004.9 1240.9 2004.9 1239.5 2002.3 1239.5 2002.3 1239.5 1999.8 1239.5 1999.8 1239.5 1997.2 1239.5 1997.2 1233.8 1994.6 1233.8 1994.6 1243 1992 1243 1992 1243 1989.4 1243 1989.4 1243 1986.9 1243 1986.9 1237.9 1984.3 1237.9 1984.3 1237.9 1981.7 1237.9 1981.7 1232.9 1979.1 1232.9 1979.1 1270.6 1976.5 1270.6 1976.5 1270.6 1973.9 1270.6 1973.9 1270.6 1971.4 1270.6 1971.4 1239.1 1968.8 1239.1 1968.8 1239.1 1966.2 1239.1 1966.2 1239.1 1963.6 1239.1 1963.6 1260 1961 1260 1961 1260 1958.4 1260 1958.5 1260 1955.9 1260 1955.9 1248 1953.3 1248 1953.3 1248 1950.7 1248 1950.7 1239.1 1948.1 1239.1 1948.1 1237.2 1945.5 1237.2 1945.5 1237.2 1943 1237.2 1943 1237.8 1940.4 1237.8 1940.4 1237.8 1937.8 1237.8 1937.8 1237.8 1935.2 1237.8 1935.2 1231.7 1932.6 1231.7 1932.6 1233.5 1930 1233.5 1930 1236.8 1927.5 1236.8 1927.5 1237.3 1924.9 1237.3 1924.9 1238 1922.3 1238 1922.3 1238 1919.7 1238 1919.7 1238 1917.1 1238 1917.1 1235 1914.6 1235 1914.6 1244.7 1912 1244.7 1912 1244.7 1909.4 1244.7 1909.4 1244.7 1906.8 1244.7 1906.8 1238.2 1904.2 1238.2 1904.2 1238.2 1901.6 1238.2 1901.6 1238.2 1899.1 1238.2 1899.1 1235.7 1896.5 1235.7 1896.5 1240.5 1893.9 1240.5 1893.9 1240.5 1891.3 1240.5 1891.3 1240.5 1888.7 1240.5 1888.7 1239.4 1886.2 1239.4 1886.2 1244.8 1883.6 1244.8 1883.6 1247.4 1881 1247.4 1881 1247.4 1878.4 1247.4 1878.4 1247.4 1875.8 1247.4 1875.8 1239.9 1873.2 1239.9 1873.2 1239.9 1870.7 1239.9 1870.7 1241 1868.1 1241 1868.1 1251.4 1865.5 1251.4 1865.5 1251.4 1862.9 1251.4 1862.9 1253.3 1860.3 1253.3 1860.3 1253.3 1857.8 1253.3 1857.8 1253.3 1855.2 1253.3 1855.2 1253 1852.6 1253 1852.6 1253 1850 1253 1850 1240.1 1847.4 1240.1 1847.4 1240.1 1844.8 1240.1 1844.8 1240.8 1842.3 1240.8 1842.3 1241.6 1839.7 1241.6 1839.7 1244.3 1837.1 1244.3 1837.1 1244.3 1834.5 1244.3 1834.5 1244.3 1831.9 1244.3 1831.9 1240.3 1829.3 1240.3 1829.3 1248 1826.8 1248 1826.8 1249.9 1824.2 1249.9 1824.2 1249.9 1821.6 1249.9 1821.6 1249.9 1819 1249.9 1819 1237.4 1816.4 1237.4 1816.4 1237.4 1813.9 1237.4 1813.9 1235.2 1811.3 1235.2 1811.3 1235.2 1808.7 1235.2 1808.7 1236.6 1806.1 1236.6 1806.1 1244.2 1803.5 1244.2 1803.5 1244.2 1800.9 1244.2 1800.9 1244.2 1798.4 1244.2 1798.4 1237.5 1795.8 1237.5 1795.8 1240.2 1793.2 1240.2 1793.2 1253.8 1790.6 1253.8 1790.6 1253.8 1788 1253.8 1788 1253.8 1785.5 1253.8 1785.5 1235.7 1782.9 1235.7 1782.9 1235.7 1780.3 1235.7 1780.3 1235.7 1777.7 1235.7 1777.7 1234.1 1775.1 1234.1 1775.1 1234.1 1772.5 1234.1 1772.5 1236.1 1770 1236.1 1770 1239.2 1767.4 1239.2 1767.4 1239.2 1764.8 1239.2 1764.8 1245.4 1762.2 1245.4 1762.2 1245.4 1759.6 1245.4 1759.6 1245.4 1757.1 1245.4 1757.1 1247.6 1754.5 1247.6 1754.5 1256 1751.9 1256 1751.9 1256 1749.3 1256 1749.3 1256 1746.7 1256 1746.7 1242.7 1744.1 1242.7 1744.1 1242.7 1741.6 1242.7 1741.6 1242.7 1739 1242.7 1739 1237 1736.4 1237 1736.4 1237 1733.8 1237 1733.8 1230.4 1731.2 1230.4 1731.2 1231.9 1728.7 1231.9 1728.7 1231.9 1726.1 1231.9 1726.1 1242.2 1723.5 1242.2 1723.5 1242.2 1720.9 1242.2 1720.9 1242.2 1718.3 1242.2 1718.3 1239.7 1715.7 1239.7 1715.7 1253 1713.2 1253 1713.2 1253 1710.6 1253 1710.6 1253 1708 1253 1708 1241.1 1705.4 1241.1 1705.4 1241.1 1702.8 1241.1 1702.8 1244.7 1700.2 1244.7 1700.2 1244.7 1697.7 1244.7 1697.7 1244.7 1695.1 1244.7 1695.1 1241.4 1692.5 1241.4 1692.5 1241.4 1689.9 1241.4 1689.9 1237.6 1687.3 1237.6 1687.3 1234.7 1684.8 1234.7 1684.8 1234.7 1682.2 1234.7 1682.2 1236.7 1679.6 1236.7 1679.6 1258.9 1677 1258.9 1677 1258.9 1674.4 1258.9 1674.4 1258.9 1671.8 1258.9 1671.8 1241.2 1669.3 1241.2 1669.3 1238.7 1666.7 1238.7 1666.7 1235.1 1664.1 1235.1 1664.1 1235.1 1661.5 1235.1 1661.5 1241.1 1658.9 1241.1 1658.9 1241.1 1656.4 1241.1 1656.4 1241.1 1653.8 1241.1 1653.8 1244.9 1651.2 1244.9 1651.2 1265.6 1648.6 1265.6 1648.6 1265.6 1646 1265.6 1646 1265.6 1643.4 1265.6 1643.4 1243.1 1640.9 1243.1 1640.9 1238.1 1638.3 1238.1 1638.3 1238.1 1635.7 1238.1 1635.7 1235.5 1633.1 1235.5 1633.1 1236.1 1630.5 1236.1 1630.5 1243.9 1628 1243.9 1628 1243.9 1625.4 1243.9 1625.4 1243.9 1622.8 1243.9 1622.8 1240.2 1620.2 1240.2 1620.2 1235.2 1617.6 1235.2 1617.6 1234.2 1615 1234.2 1615 1253.8 1612.5 1253.8 1612.5 1253.8 1609.9 1253.8 1609.9 1253.8 1607.3 1253.8 1607.3 1239 1604.7 1239 1604.7 1239 1602.1 1239 1602.1 1240.3 1599.6 1240.3 1599.6 1240.8 1597 1240.8 1597 1246.5 1594.4 1246.5 1594.4 1246.5 1591.8 1246.5 1591.8 1249 1589.2 1249 1589.2 1249 1586.6 1249 1586.6 1249 1584.1 1249 1584.1 1238.3 1581.5 1238.3 1581.5 1238.3 1578.9 1238.3 1578.9 1236.1 1576.3 1236.1 1576.3 1236.1 1573.7 1236.1 1573.7 1243.1 1571.1 1243.1 1571.2 1243.1 1568.6 1243.1 1568.6 1243.1 1566 1243.1 1566 1250.2 1563.4 1250.2 1563.4 1250.2 1560.8 1250.2 1560.8 1250.2 1558.2 1250.2 1558.2 1243.2 1555.7 1243.2 1555.7 1241.9 1553.1 1241.9 1553.1 1241.9 1550.5 1241.9 1550.5 1241.7 1547.9 1241.7 1547.9 1246.3 1545.3 1246.3 1545.3 1246.3 1542.7 1246.3 1542.7 1246.3 1540.2 1246.3 1540.2 1266.1 1537.6 1266.1 1537.6 1266.1 1535 1266.1 1535 1266.1 1532.4 1266.1 1532.4 1252 1529.8 1252 1529.8 1252 1527.3 1252 1527.3 1240.7 1524.7 1240.7 1524.7 1240.7 1522.1 1240.7 1522.1 1240.4 1519.5 1240.4 1519.5 1239.8 1516.9 1239.8 1516.9 1239.8 1514.3 1239.8 1514.3 1239.8 1511.8 1239.8 1511.8 1239.1 1509.2 1239.1 1509.2 1239.1 1506.6 1239.1 1506.6 1235.4 1504 1235.4 1504 1236.5 1501.4 1236.5 1501.4 1236.5 1498.9 1236.5 1498.9 1236.5 1496.3 1236.5 1496.3 1229.7 1493.7 1229.7 1493.7 1227.7 1491.1 1227.7 1491.1 1226.9 1488.5 1226.9 1488.5 1244.9 1485.9 1244.9 1485.9 1244.9 1483.4 1244.9 1483.4 1244.9 1480.8 1244.9 1480.8 1237.1 1478.2 1237.1 1478.2 1243.2 1475.6 1243.2 1475.6 1243.2 1473 1243.2 1473 1243.2 1470.5 1243.2 1470.5 1235.6 1467.9 1235.6 1467.9 1229.7 1465.3 1229.7 1465.3 1239.5 1462.7 1239.5 1462.7 1239.5 1460.1 1239.5 1460.1 1239.5 1457.5 1239.5 1457.5 1231.8 1455 1231.8 1455 1239.2 1452.4 1239.2 1452.4 1239.2 1449.8 1239.2 1449.8 1241.1 1447.2 1241.1 1447.2 1241.1 1444.6 1241.1 1444.6 1241.1 1442 1241.1 1442 1240.4 1439.5 1240.4 1439.5 1241.1 1436.9 1241.1 1436.9 1241.1 1434.3 1241.1 1434.3 1241.1 1431.7 1241.1 1431.7 1238.4 1429.1 1238.4 1429.1 1238.4 1426.6 1238.4 1426.6 1230.2 1424 1230.2 1424 1225.9 1421.4 1225.9 1421.4 1225.9 1418.8 1225.9 1418.8 1226.4 1416.2 1226.4 1416.2 1236.5 1413.6 1236.5 1413.6 1236.5 1411.1 1236.5 1411.1 1236.5 1408.5 1236.5 1408.5 1227.9 1405.9 1227.9 1405.9 1245.7 1403.3 1245.7 1403.3 1245.7 1400.7 1245.7 1400.7 1245.7 1398.2 1245.7 1398.2 1240.6 1395.6 1240.6 1395.6 1233.1 1393 1233.1 1393 1230.3 1390.4 1230.3 1390.4 1230.3 1387.8 1230.3 1387.8 1230.3 1385.2 1230.3 1385.2 1237.2 1382.7 1237.2 1382.7 1237.2 1380.1 1237.2 1380.1 1237.2 1377.5 1237.2 1377.5 1236 1374.9 1236 1374.9 1242.8 1372.3 1242.8 1372.3 1242.8 1369.8 1242.8 1369.8 1242.8 1367.2 1242.8 1367.2 1238.2 1364.6 1238.2 1364.6 1238.2 1362 1238.2 1362 1245 1359.4 1245 1359.4 1245 1356.8 1245 1356.8 1245 1354.3 1245 1354.3 1236.3 1351.7 1236.3 1351.7 1244.5 1349.1 1244.5 1349.1 1244.5 1346.5 1244.5 1346.5 1244.5 1343.9 1244.5 1343.9 1237.2 1341.4 1237.2 1341.4 1237.6 1338.8 1237.6 1338.8 1245.8 1336.2 1245.8 1336.2 1245.8 1333.6 1245.8 1333.6 1245.8 1331 1245.8 1331 1248.1 1328.4 1248.1 1328.4 1215.8 1325.9 1215.8 1325.9 1213 1323.3 1213 1323.3 1204 1320.7 1204 1320.7 1200.6 1318.1 1200.6 1318.1 1188 1315.5 1188 1315.5 1182.2 1312.9 1182.2 1313 1206 1310.4 1206 1310.4 1206 1307.8 1206 1307.8 1219 1305.2 1219 1305.2 1219 1302.6 1219 1302.6 1219 1300 1219 1300 1206 1297.5 1206 1297.5 1196.7 1294.9 1196.7 1294.9 1220.2 1292.3 1220.2 1292.3 1219.4 1289.7 1219.4 1289.7 1235 1287.1 1235 1287.1 1235 1284.5 1235 1284.5 1235 1282 1235 1282 1207.7 1279.4 1207.7 1279.4 1208 1276.8 1208 1276.8 1209.5 1274.2 1209.5 1274.2 1209.9 1271.6 1209.9 1271.6 1236 1269.1 1236 1269.1 1219.9 1266.5 1219.9 1266.5 1244.9 1263.9 1244.9 1263.9 1244.9 1261.3 1244.9 1261.3 1244.9 1258.7 1244.9 1258.7 1232.1 1256.1 1232.1 1256.1 1230.8 1253.6 1230.8 1253.6 1255 1251 1255 1251 1255 1248.4 1255 1248.4 1255 1245.8 1255 1245.8 1236.4 1243.2 1236.4 1243.2 1248.4 1240.7 1248.4 1240.7 1248.4 1238.1 1248.4 1238.1 1248.4 1235.5 1248.4 1235.5 1237.1 1232.9 1237.1 1232.9 1237.1 1230.3 1237.1 1230.3 1255.2 1227.7 1255.2 1227.7 1255.2 1225.2 1255.2 1225.2 1255.2 1222.6 1255.2 1222.6 1246.5 1220 1246.5 1220 1246.5 1217.4 1246.5 1217.4 1237.8 1214.8 1237.8 1214.8 1236.8 1212.3 1236.8 1212.3 1236.8 1209.7 1236.8 1209.7 1234.3 1207.1 1234.3 1207.1 1232.5 1204.5 1232.5 1204.5 1232.5 1201.9 1232.5 1201.9 1238.7 1199.3 1238.7 1199.3 1243.4 1196.8 1243.4 1196.8 1243.4 1194.2 1243.4 1194.2 1243.4 1191.6 1243.4 1191.6 1245.8 1189 1245.8 1189 1245.8 1186.4 1245.8 1186.4 1245.8 1183.8 1245.8 1183.9 1240.5 1181.3 1240.5 1181.3 1253.8 1178.7 1253.8 1178.7 1253.8 1176.1 1253.8 1176.1 1253.8 1173.5 1253.8 1173.5 1239.7 1170.9 1239.7 1170.9 1234.4 1168.4 1234.4 1168.4 1234.4 1165.8 1234.4 1165.8 1234.4 1163.2 1234.4 1163.2 1232.1 1160.6 1232.1 1160.6 1235.4 1158 1235.4 1158 1235.4 1155.4 1235.4 1155.4 1235.4 1152.9 1235.4 1152.9 1237.2 1150.3 1237.2 1150.3 1237.2 1147.7 1237.2 1147.7 1237.2 1145.1 1237.2 1145.1 1232.2 1142.5 1232.2 1142.5 1232.2 1140 1232.2 1140 1232.2 1137.4 1232.2 1137.4 1238 1134.8 1238 1134.8 1238 1132.2 1238 1132.2 1256.3 1129.6 1256.3 1129.6 1256.3 1127 1256.3 1127 1256.3 1124.5 1256.3 1124.5 1233.7 1121.9 1233.7 1121.9 1233.7 1119.3 1233.7 1119.3 1244.6 1116.7 1244.6 1116.7 1244.6 1114.1 1244.6 1114.1 1250.6 1111.6 1250.6 1111.6 1250.6 1109 1250.6 1109 1250.6 1106.4 1250.6 1106.4 1251.7 1103.8 1251.7 1103.8 1251.7 1101.2 1251.7 1101.2 1251.7 1098.6 1251.7 1098.6 1241.7 1096.1 1241.7 1096.1 1250.7 1093.5 1250.7 1093.5 1250.7 1090.9 1250.7 1090.9 1250.7 1088.3 1250.7 1088.3 1235.9 1085.7 1235.9 1085.7 1236.2 1083.2 1236.2 1083.2 1236.2 1080.6 1236.2 1080.6 1243.5 1078 1243.5 1078 1243.5 1075.4 1243.5 1075.4 1243.5 1072.8 1243.5 1072.8 1231.7 1070.2 1231.7 1070.2 1232 1067.7 1232 1067.7 1239.3 1065.1 1239.3 1065.1 1239.3 1062.5 1239.3 1062.5 1239.3 1059.9 1239.3 1059.9 1233 1057.3 1233 1057.3 1234.3 1054.8 1234.3 1054.8 1234.3 1052.2 1234.3 1052.2 1234.3 1049.6 1234.3 1049.6 1228.8 1047 1228.8 1047 1228.8 1044.4 1228.8 1044.4 1240.7 1041.8 1240.7 1041.8 1240.7 1039.3 1240.7 1039.3 1240.7 1036.7 1240.7 1036.7 1237.8 1034.1 1237.8 1034.1 1237.8 1031.5 1237.8 1031.5 1233.9 1028.9 1233.9 1028.9 1234.3 1026.3 1234.3 1026.3 1234.3 1023.8 1234.3 1023.8 1234.3 1021.2 1234.3 1021.2 1238.3 1018.6 1238.3 1018.6 1238.3 1016 1238.3 1016 1238.3 1013.4 1238.3 1013.4 1242 1010.9 1242 1010.9 1242 1008.3 1242 1008.3 1242 1005.7 1242 1005.7 1233.5 1003.1 1233.5 1003.1 1233.5 1000.5 1233.5 1000.5 1244.6 997.9 1244.6 997.9 1244.6 995.4 1244.6 995.4 1244.6 992.8 1244.6 992.8 1248 990.2 1248 990.2 1248 987.6 1248 987.6 1248 985 1248 985 1240.1 982.5 1240.1 982.5 1234.8 979.9 1234.8 979.9 1244.7 977.3 1244.7 977.3 1244.7 974.7 1244.7 974.7 1244.7 972.1 1244.7 972.1 1233.5 969.5 1233.5 969.5 1250.5 967 1250.5 967 1250.5 964.4 1250.5 964.4 1250.5 961.8 1250.5 961.8 1232.9 959.2 1232.9 959.2 1246.6 956.6 1246.6 956.6 1246.6 954.1 1246.6 954.1 1246.6 951.5 1246.6 951.5 1230.6 948.9 1230.6 948.9 1238 946.3 1238 946.3 1238 943.7 1238 943.7 1238.2 941.1 1238.2 941.1 1238.2 938.6 1238.2 938.6 1238.2 936 1238.2 936 1227.3 933.4 1227.3 933.4 1227.2 930.8 1227.2 930.8 1227.7 928.2 1227.7 928.2 1234.7 925.6 1234.7 925.6 1234.7 923.1 1234.7 923.1 1234.7 920.5 1234.7 920.5 1229.9 917.9 1229.9 917.9 1235.8 915.3 1235.8 915.3 1239.4 912.7 1239.4 912.7 1241.8 910.2 1241.8 910.2 1241.8 907.6 1241.8 907.6 1264.9 905 1264.9 905 1264.9 902.4 1264.9 902.4 1264.9 899.8 1264.9 899.8 1233.2 897.2 1233.2 897.2 1235.1 894.7 1235.1 894.7 1235.1 892.1 1235.1 892.1 1235.1 889.5 1235.1 889.5 1244.5 886.9 1244.5 886.9 1244.5 884.3 1244.5 884.3 1244.5 881.8 1244.5 881.8 1240.6 879.2 1240.6 879.2 1240.6 876.6 1240.6 876.6 1236.9 874 1236.9 874 1239.3 871.4 1239.3 871.4 1239.3 868.8 1239.3 868.8 1239.3 866.3 1239.3 866.3 1235.2 863.7 1235.2 863.7 1235.2 861.1 1235.2 861.1 1231.7 858.5 1231.7 858.5 1232.1 855.9 1232.1 855.9 1243.2 853.4 1243.2 853.4 1243.2 850.8 1243.2 850.8 1243.2 848.2 1243.2 848.2 1239.6 845.6 1239.6 845.6 1230.1 843 1230.1 843 1230.7 840.4 1230.7 840.4 1230.7 837.9 1230.7 837.9 1230.7 835.3 1230.7 835.3 1230 832.7 1230 832.7 1230 830.1 1230 830.1 1230.2 827.5 1230.2 827.5 1230.2 825 1230.2 825 1234.7 822.4 1234.7 822.4 1234.7 819.8 1234.7 819.8 1234.7 817.2 1234.7 817.2 1233.1 814.6 1233.1 814.6 1233.1 812 1233.1 812 1233.1 809.5 1233.1 809.5 1244.1 806.9 1244.1 806.9 1244.1 804.3 1244.1 804.3 1244.1 801.7 1244.1 801.7 1231.8 799.1 1231.8 799.1 1231.8 796.5 1231.8 796.5 1244.1 794 1244.1 794 1244.1 791.4 1244.1 791.4 1244.1 788.8 1244.1 788.8 1249.8 786.2 1249.8 786.2 1249.8 783.6 1249.8 783.6 1249.8 781.1 1249.8 781.1 1237.2 778.5 1237.2 778.5 1237.2 775.9 1237.2 775.9 1237.2 773.3 1237.2 773.3 1234.2 770.7 1234.2 770.7 1239.7 768.1 1239.7 768.1 1239.7 765.6 1239.7 765.6 1239.7 763 1239.7 763 1244.8 760.4 1244.8 760.4 1244.8 757.8 1244.8 757.8 1244.8 755.2 1244.8 755.2 1235.4 752.7 1235.4 752.7 1235.4 750.1 1235.4 750.1 1235.4 747.5 1235.4 747.5 1229.8 744.9 1229.8 744.9 1243.3 742.3 1243.3 742.3 1245.6 739.7 1245.6 739.7 1245.6 737.2 1245.6 737.2 1245.6 734.6 1245.6 734.6 1241.7 732 1241.7 732 1232.3 729.4 1232.3 729.4 1232.3 726.8 1232.3 726.8 1232.3 724.3 1232.3 724.3 1235.6 721.7 1235.6 721.7 1235.6 719.1 1235.6 719.1 1235.6 716.5 1235.6 716.5 1235.1 713.9 1235.1 713.9 1233.1 711.3 1233.1 711.3 1232 708.8 1232 708.8 1232 706.2 1232 706.2 1234.9 703.6 1234.9 703.6 1234.9 701 1234.9 701 1234.9 698.4 1234.9 698.4 1231.5 695.9 1231.5 695.9 1231.5 693.3 1231.5 693.3 1231.5 690.7 1231.5 690.7 1231.5 688.1 1231.5 688.1 1227.5 685.5 1227.5 685.5 1236 682.9 1236 682.9 1236 680.4 1236 680.4 1236 677.8 1236 677.8 1232.2 675.2 1232.2 675.2 1232.2 672.6 1232.2 672.6 1233.1 670 1233.1 670 1238.1 667.4 1238.1 667.4 1241 664.9 1241 664.9 1241 662.3 1241 662.3 1241 659.7 1241 659.7 1235 657.1 1235 657.1 1234.8 654.5 1234.8 654.5 1246 652 1246 652 1246 649.4 1246 649.4 1246 646.8 1246 646.8 1247.5 644.2 1247.5 644.2 1247.5 641.6 1247.5 641.6 1247.5 639 1247.5 639 1236.3 636.5 1236.3 636.5 1236.3 633.9 1236.3 633.9 1234.6 631.3 1234.6 631.3 1232.5 628.7 1232.5 628.7 1237.4 626.1 1237.4 626.1 1237.4 623.6 1237.4 623.6 1237.4 621 1237.4 621 1232.7 618.4 1232.7 618.4 1232.7 615.8 1232.7 615.8 1237 613.2 1237 613.2 1240.2 610.6 1240.2 610.6 1240.2 608.1 1240.2 608.1 1240.2 605.5 1240.2 605.5 1237.2 602.9 1237.2 602.9 1236.7 600.3 1236.7 600.3 1236.7 597.7 1236.7 597.7 1242.4 595.2 1242.4 595.2 1248.2 592.6 1248.2 592.6 1248.2 590 1248.2 590 1249 587.4 1249 587.4 1249 584.8 1249 584.8 1249 582.2 1249 582.2 1234 579.7 1234 579.7 1238.3 577.1 1238.3 577.1 1238.3 574.5 1238.3 574.5 1238.3 571.9 1238.3 571.9 1233.9 569.3 1233.9 569.3 1233.9 566.8 1233.9 566.8 1233.9 564.2 1233.9 564.2 1237.3 561.6 1237.3 561.6 1237.3 559 1237.3 559 1237.3 556.4 1237.3 556.4 1230.9 553.8 1230.9 553.8 1230.9 551.3 1230.9 551.3 1230.3 548.7 1230.3 548.7 1230.3 546.1 1230.3 546.1 1230.3 543.5 1230.3 543.5 1240.5 540.9 1240.5 540.9 1240.5 538.4 1240.5 538.4 1240.5 535.8 1240.5 535.8 1229.1 533.2 1229.1 533.2 1238.8 530.6 1238.8 530.6 1238.8 528 1238.8 528 1238.8 525.4 1238.8 525.4 1244.4 522.9 1244.4 522.9 1244.4 520.3 1244.4 520.3 1244.4 517.7 1244.4 517.7 1230.7 515.1 1230.7 515.1 1230.7 512.5 1230.7 512.5 1229.2 509.9 1229.2 509.9 1229.2 507.4 1229.2 507.4 1229.9 504.8 1229.9 504.8 1229.9 502.2 1229.9 502.2 1233.2 499.6 1233.2 499.6 1233.2 497 1233.2 497 1233.2 494.5 1233.2 494.5 1259.1 491.9 1259.1 491.9 1259.1 489.3 1259.1 489.3 1259.1 486.7 1259.1 486.7 1235.6 484.1 1235.6 484.1 1235.6 481.5 1235.6 481.5 1248.1 479 1248.1 479 1248.1 476.4 1248.1 476.4 1248.1 473.8 1248.1 473.8 1234.3 471.2 1234.3 471.2 1251.5 468.6 1251.5 468.6 1251.5 466.1 1251.5 466.1 1251.5 463.5 1251.5 463.5 1251.3 460.9 1251.3 460.9 1251.3 458.3 1251.3 458.3 1251.3 455.7 1251.3 455.7 1245.2 453.1 1245.2 453.1 1245.2 450.6 1245.2 450.6 1227.1 448 1227.1 448 1225 445.4 1225 445.4 1229.5 442.8 1229.5 442.8 1233.1 440.2 1233.1 440.2 1243.1 437.7 1243.1 437.7 1243.1 435.1 1243.1 435.1 1243.1 432.5 1243.1 432.5 1245.7 429.9 1245.7 429.9 1245.7 427.3 1245.7 427.3 1245.7 424.7 1245.7 424.7 1243.6 422.2 1243.6 422.2 1243.6 419.6 1243.6 419.6 1238.4 417 1238.4 417 1242.6 414.4 1242.6 414.4 1242.6 411.8 1242.6 411.8 1243.1 409.2 1243.1 409.2 1243.1 406.7 1243.1 406.7 1243.9 404.1 1243.9 404.1 1243.9 401.5 1243.9 401.5 1243.9 398.9 1243.9 398.9 1242.6 396.3 1242.6 396.3 1242.6 393.8 1242.6 393.8 1242.6 391.2 1242.6 391.2 1234.7 388.6 1234.7 388.6 1234.7 386 1234.7 386 1253 383.4 1253 383.4 1253 380.8 1253 380.8 1253 378.3 1253 378.3 1237.1 375.7 1237.1 375.7 1233.2 373.1 1233.2 373.1 1236.5 370.5 1236.5 370.5 1236.5 367.9 1236.5 367.9 1245.3 365.4 1245.3 365.4 1245.3 362.8 1245.3 362.8 1245.3 360.2 1245.3 360.2 1233 357.6 1233 357.6 1229.5 355 1229.5 355 1232.3 352.4 1232.3 352.4 1232.3 349.9 1232.3 349.9 1233.5 347.3 1233.5 347.3 1235.4 344.7 1235.4 344.7 1241.6 342.1 1241.6 342.1 1241.6 339.5 1241.6 339.5 1241.6 337 1241.6 337 1234.6 334.4 1234.6 334.4 1240.7 331.8 1240.7 331.8 1253 329.2 1253 329.2 1253 326.6 1253 326.6 1253 324 1253 324 1236 321.5 1236 321.5 1236 318.9 1236 318.9 1235.3 316.3 1235.3 316.3 1243.4 313.7 1243.4 313.7 1243.4 311.1 1243.4 311.1 1243.4 308.6 1243.4 308.6 1237.2 306 1237.2 306 1231.4 303.4 1231.4 303.4 1231.4 300.8 1231.4 300.8 1231.4 298.2 1231.4 298.2 1234 295.6 1234 295.6 1234 293.1 1234 293.1 1234 290.5 1234 290.5 1235.7 287.9 1235.7 287.9 1243.1 285.3 1243.1 285.3 1243.1 282.7 1243.1 282.7 1243.1 280.1 1243.1 280.1 1231.9 277.6 1231.9 277.6 1231.9 275 1231.9 275 1231 272.4 1231 272.4 1231 269.8 1231 269.8 1246.3 267.2 1246.3 267.2 1246.3 264.7 1246.3 264.7 1246.3 262.1 1246.3 262.1 1232.7 259.5 1232.7 259.5 1238.7 256.9 1238.7 256.9 1238.7 254.3 1238.7 254.3 1238.7 251.7 1238.7 251.7 1234.3 249.2 1234.3 249.2 1232.5 246.6 1232.5 246.6 1233.5 244 1233.5 244 1234.5 241.4 1234.5 241.4 1234.5 238.8 1234.5 238.8 1234.5 236.3 1234.5 236.3 1232.5 233.7 1232.5 233.7 1232.5 231.1 1232.5 231.1 1232.5 228.5 1232.5 228.5 1228.1 225.9 1228.1 225.9 1230.5 223.3 1230.5 223.3 1230.5 220.8 1230.5 220.8 1232 218.2 1232 218.2 1232 215.6 1232 215.6 1240.1 213 1240.1 213 1240.1 210.4 1240.1 210.4 1246.3 207.9 1246.3 207.9 1246.3 205.3 1246.3 205.3 1246.3 202.7 1246.3 202.7 1230.8 200.1 1230.8 200.1 1235.9 197.5 1235.9 197.5 1235.9 194.9 1235.9 194.9 1239 192.4 1239 192.4 1239 189.8 1239Z" fill="#ff0000" shape-rendering="crispEdges"/>
<path d="M189.8 1009 192.4 1009 192.4 1124.8 194.9 1124.8 194.9 1124.8 197.5 1124.8 197.5 1128.2 200.1 1128.2 200.1 1135.6 202.7 1135.6 202.7 1135.6 205.3 1135.6 205.3 1135.6 207.9 1135.6 207.9 1140.4 210.4 1140.4 210.4 1142.8 213 1142.8 213 1141.5 215.6 1141.5 215.6 1141.1 218.2 1141.1 218.2 1141.1 220.8 1141.1 220.8 1141.1 223.3 1141.1 223.3 1141.3 225.9 1141.3 225.9 1137.2 228.5 1137.2 228.5 1137.2 231.1 1137.2 231.1 1137.2 233.7 1137.2 233.7 1143.9 236.3 1143.9 236.3 1143.9 238.8 1143.9 238.8 1134.6 241.4 1134.6 241.4 1134.6 244 1134.6 244 1134.6 246.6 1134.6 246.6 1140.6 249.2 1140.6 249.2 1084.5 251.7 1084.5 251.7 1084.5 254.3 1084.5 254.3 1084.5 256.9 1084.5 256.9 1130.7 259.5 1130.7 259.5 1130.7 262.1 1130.7 262.1 1134 264.7 1134 264.7 1134 267.2 1134 267.2 1145.3 269.8 1145.3 269.8 1147.5 272.4 1147.5 272.4 1121 275 1121 275 1116 277.6 1116 277.6 1116 280.1 1116 280.1 1116 282.7 1116 282.7 1116 285.3 1116 285.3 1134.5 287.9 1134.5 287.9 1146.7 290.5 1146.7 290.5 1143.3 293.1 1143.3 293.1 1143.3 295.6 1143.3 295.6 983 298.2 983 298.2 983 300.8 983 300.8 983 303.4 983 303.4 1134.2 306 1134.2 306 1139.3 308.6 1139.3 308.6 1139.3 311.1 1139.3 311.1 1139.3 313.7 1139.3 313.7 1144.2 316.3 1144.2 316.3 1134.3 318.9 1134.3 318.9 1134.3 321.5 1134.3 321.5 1134.3 324 1134.3 324 1145 326.6 1145 326.6 1145.1 329.2 1145.1 329.2 1136 331.8 1136 331.8 1136 334.4 1136 334.4 1136 337 1136 337 1133.7 339.5 1133.7 339.5 1133.7 342.1 1133.7 342.1 1133.7 344.7 1133.7 344.7 1143.5 347.3 1143.5 347.3 1143.5 349.9 1143.5 349.9 1144.6 352.4 1144.6 352.4 1144.6 355 1144.6 355 1144.6 357.6 1144.6 357.6 1146.7 360.2 1146.7 360.2 1146.7 362.8 1146.7 362.8 1146.8 365.4 1146.8 365.4 1130.2 367.9 1130.2 367.9 1130.2 370.5 1130.2 370.5 1130.2 373.1 1130.2 373.1 1142.8 375.7 1142.8 375.7 1141.1 378.3 1141.1 378.3 1130.8 380.8 1130.8 380.8 1130.8 383.4 1130.8 383.4 1130.8 386 1130.8 386 1138.2 388.6 1138.2 388.6 1138.2 391.2 1138.2 391.2 1139.9 393.8 1139.9 393.8 1139.9 396.3 1139.9 396.3 1082 398.9 1082 398.9 1082 401.5 1082 401.5 1082 404.1 1082 404.1 1139.5 406.7 1139.5 406.7 1137.1 409.2 1137.1 409.2 1137.1 411.8 1137.1 411.8 1137.1 414.4 1137.1 414.4 1141.4 417 1141.4 417 1144.7 419.6 1144.7 419.6 1135.8 422.2 1135.8 422.2 1130 424.7 1130 424.7 1130 427.3 1130 427.3 1121 429.9 1121 429.9 1121 432.5 1121 432.5 1121 435.1 1121 435.1 1132 437.7 1132 437.7 1132 440.2 1132 440.2 1144.7 442.8 1144.7 442.8 1142.6 445.4 1142.6 445.4 1126 448 1126 448 1126 450.6 1126 450.6 1126 453.1 1126 453.1 1143.4 455.7 1143.4 455.7 1143.4 458.3 1143.4 458.3 1137.2 460.9 1137.2 460.9 1137.2 463.5 1137.2 463.5 1129 466.1 1129 466.1 1129 468.6 1129 468.6 1129 471.2 1129 471.2 1129 473.8 1129 473.8 1141.9 476.4 1141.9 476.4 1145.2 479 1145.2 479 1134.2 481.5 1134.2 481.5 1134.2 484.1 1134.2 484.1 1132.3 486.7 1132.3 486.7 1132.3 489.3 1132.3 489.3 1132.3 491.9 1132.3 491.9 1142.9 494.5 1142.9 494.5 1135.1 497 1135.1 497 1135.1 499.6 1135.1 499.6 1135.1 502.2 1135.1 502.2 1136.1 504.8 1136.1 504.8 1136.1 507.4 1136.1 507.4 1139.9 509.9 1139.9 509.9 1089.7 512.5 1089.7 512.5 1089.7 515.1 1089.7 515.1 1089.7 517.7 1089.7 517.7 1100 520.3 1100 520.3 1100 522.9 1100 522.9 1100 525.4 1100 525.4 1146 528 1146 528 1146 530.6 1146 530.6 1149.4 533.2 1149.4 533.2 1149.4 535.8 1149.4 535.8 1146.5 538.4 1146.5 538.4 1092 540.9 1092 540.9 1092 543.5 1092 543.5 1092 546.1 1092 546.1 1118 548.7 1118 548.7 1118 551.3 1118 551.3 1136.8 553.8 1136.8 553.8 1136.8 556.4 1136.8 556.4 1136.8 559 1136.8 559 1147.3 561.6 1147.3 561.6 1145 564.2 1145 564.2 1145 566.8 1145 566.8 1138.1 569.3 1138.1 569.3 1138.1 571.9 1138.1 571.9 1138.1 574.5 1138.1 574.5 1145.2 577.1 1145.2 577.1 1147.3 579.7 1147.3 579.7 1144.1 582.2 1144.1 582.2 1142.9 584.8 1142.9 584.8 1142.9 587.4 1142.9 587.4 1142.9 590 1142.9 590 1144.4 592.6 1144.4 592.6 1149 595.2 1149 595.2 1137.1 597.7 1137.1 597.7 1137.1 600.3 1137.1 600.3 1137.1 602.9 1137.1 602.9 1139.3 605.5 1139.3 605.5 1145.8 608.1 1145.8 608.1 1145.8 610.6 1145.8 610.6 1146.9 613.2 1146.9 613.2 1146.9 615.8 1146.9 615.8 1108 618.4 1108 618.4 1108 621 1108 621 1108 623.6 1108 623.6 1121.5 626.1 1121.5 626.1 1121.5 628.7 1121.5 628.7 1136 631.3 1136 631.3 1142.3 633.9 1142.3 633.9 1142.3 636.5 1142.3 636.5 1142.3 639 1142.3 639 1145.1 641.6 1145.1 641.6 1145.1 644.2 1145.1 644.2 1141.8 646.8 1141.8 646.8 1141.8 649.4 1141.8 649.4 1141.8 652 1141.8 652 1146.3 654.5 1146.3 654.5 1123.5 657.1 1123.5 657.1 1123.5 659.7 1123.5 659.7 1123.5 662.3 1123.5 662.3 1141.7 664.9 1141.7 664.9 1141.7 667.4 1141.7 667.4 1141.7 670 1141.7 670 1146 672.6 1146 672.6 1140.2 675.2 1140.2 675.2 1140.2 677.8 1140.2 677.8 1140.2 680.4 1140.2 680.4 1134.7 682.9 1134.7 682.9 1134.7 685.5 1134.7 685.5 1134.7 688.1 1134.7 688.1 1134.7 690.7 1134.7 690.7 1027.5 693.3 1027.5 693.3 1027.5 695.9 1027.5 695.9 1027.5 698.4 1027.5 698.4 1082 701 1082 701 1146.2 703.6 1146.2 703.6 1150.7 706.2 1150.7 706.2 1149.3 708.8 1149.3 708.8 1149.3 711.3 1149.3 711.3 1131 713.9 1131 713.9 1131 716.5 1131 716.5 1131 719.1 1131 719.1 1147.1 721.7 1147.1 721.7 1110 724.3 1110 724.3 1084.5 726.8 1084.5 726.8 1072 729.4 1072 729.4 1072 732 1072 732 1072 734.6 1072 734.6 1128 737.2 1128 737.2 1128 739.7 1128 739.7 1143.3 742.3 1143.3 742.3 1147.5 744.9 1147.5 744.9 1142.4 747.5 1142.4 747.5 1142.4 750.1 1142.4 750.1 1140.3 752.7 1140.3 752.7 1140.3 755.2 1140.3 755.2 1133.1 757.8 1133.1 757.8 1133.1 760.4 1133.1 760.4 1133.1 763 1133.1 763 1146.3 765.6 1146.3 765.6 1150.4 768.1 1150.4 768.1 1148 770.7 1148 770.7 1148 773.3 1148 773.3 1148 775.9 1148 775.9 1149.8 778.5 1149.8 778.5 1149.8 781.1 1149.8 781.1 1150 783.6 1150 783.6 1148.2 786.2 1148.2 786.2 1148.2 788.8 1148.2 788.8 1128.8 791.4 1128.8 791.4 1128.8 794 1128.8 794 1128.8 796.5 1128.8 796.5 1140.3 799.1 1140.3 799.1 1140.3 801.7 1140.3 801.7 1143.7 804.3 1143.7 804.3 1143.7 806.9 1143.7 806.9 1143.7 809.5 1143.7 809.5 1145.8 812 1145.8 812 1136.8 814.6 1136.8 814.6 1136.8 817.2 1136.8 817.2 1136.8 819.8 1136.8 819.8 1137.5 822.4 1137.5 822.4 1137.5 825 1137.5 825 1142.9 827.5 1142.9 827.5 1142.9 830.1 1142.9 830.1 1142.3 832.7 1142.3 832.7 991 835.3 991 835.3 991 837.9 991 837.9 991 840.4 991 840.4 1143.4 843 1143.4 843 1136 845.6 1136 845.6 1136 848.2 1136 848.2 1136 850.8 1136 850.8 1148.2 853.4 1148.2 853.4 1152.8 855.9 1152.8 855.9 1152.8 858.5 1152.8 858.5 1152.8 861.1 1152.8 861.1 1153.9 863.7 1153.9 863.7 1149.8 866.3 1149.8 866.3 1146.9 868.8 1146.9 868.8 1146.9 871.4 1146.9 871.4 1132.1 874 1132.1 874 1132.1 876.6 1132.1 876.6 1132.1 879.2 1132.1 879.2 1149.5 881.8 1149.5 881.8 1149.5 884.3 1149.5 884.3 1142.8 886.9 1142.8 886.9 1142.8 889.5 1142.8 889.5 1142.8 892.1 1142.8 892.1 1152 894.7 1152 894.7 1131 897.2 1131 897.2 1131 899.8 1131 899.8 1131 902.4 1131 902.4 1146.8 905 1146.8 905 1146.8 907.6 1146.8 907.6 1146.2 910.2 1146.2 910.2 1143.9 912.7 1143.9 912.7 1141.5 915.3 1141.5 915.3 1141.5 917.9 1141.5 917.9 1141.5 920.5 1141.5 920.5 1141.9 923.1 1141.9 923.1 1141.9 925.6 1141.9 925.6 1126 928.2 1126 928.2 1126 930.8 1126 930.8 1126 933.4 1126 933.4 1147.9 936 1147.9 936 1136 938.6 1136 938.6 1136 941.1 1136 941.1 1136 943.7 1136 943.7 1149.9 946.3 1149.9 946.3 1150.4 948.9 1150.4 948.9 1151.2 951.5 1151.2 951.5 1149.8 954.1 1149.8 954.1 1147.8 956.6 1147.8 956.6 1147.8 959.2 1147.8 959.2 1146.7 961.8 1146.7 961.8 1146.7 964.4 1146.7 964.4 1146.7 967 1146.7 967 1147.3 969.5 1147.3 969.5 1147.3 972.1 1147.3 972.1 1118.5 974.7 1118.5 974.7 1118.5 977.3 1118.5 977.3 1118.5 979.9 1118.5 979.9 1140.4 982.5 1140.4 982.5 1140.4 985 1140.4 985 1140.4 987.6 1140.4 987.6 1143.7 990.2 1143.7 990.2 1143.7 992.8 1143.7 992.8 1143.7 995.4 1143.7 995.4 1146.9 997.9 1146.9 997.9 1150.6 1000.5 1150.6 1000.5 1133.9 1003.1 1133.9 1003.1 1133.9 1005.7 1133.9 1005.7 1133.9 1008.3 1133.9 1008.3 1134 1010.9 1134 1010.9 1134 1013.4 1134 1013.4 1134 1016 1134 1016 1134 1018.6 1134 1018.6 1143.8 1021.2 1143.8 1021.2 1148 1023.8 1148 1023.8 1148 1026.3 1148 1026.3 1137.2 1028.9 1137.2 1028.9 1137.2 1031.5 1137.2 1031.5 1137.2 1034.1 1137.2 1034.1 1144.3 1036.7 1144.3 1036.7 1149.5 1039.3 1149.5 1039.3 1149.6 1041.8 1149.6 1041.8 1148.3 1044.4 1148.3 1044.4 1118.5 1047 1118.5 1047 1118.5 1049.6 1118.5 1049.6 991 1052.2 991 1052.2 991 1054.8 991 1054.8 991 1057.3 991 1057.3 1095 1059.9 1095 1059.9 1095 1062.5 1095 1062.5 1095 1065.1 1095 1065.1 1128 1067.7 1128 1067.7 1128 1070.2 1128 1070.2 1128 1072.8 1128 1072.8 1138 1075.4 1138 1075.4 1138 1078 1138 1078 1146 1080.6 1146 1080.6 1146 1083.2 1146 1083.2 1147 1085.7 1147 1085.7 1147 1088.3 1147 1088.3 1142.2 1090.9 1142.2 1090.9 1142.2 1093.5 1142.2 1093.5 1142.2 1096.1 1142.2 1096.1 1143 1098.6 1143 1098.6 1144.3 1101.2 1144.3 1101.2 1144.3 1103.8 1144.3 1103.8 1144.3 1106.4 1144.3 1106.4 1152.1 1109 1152.1 1109 1151 1111.6 1151 1111.6 1151 1114.1 1151 1114.1 1147.1 1116.7 1147.1 1116.7 1147.1 1119.3 1147.1 1119.3 1146.2 1121.9 1146.2 1121.9 1145.1 1124.5 1145.1 1124.5 1140.9 1127 1140.9 1127 1140.9 1129.6 1140.9 1129.6 1140.9 1132.2 1140.9 1132.2 1142.3 1134.8 1142.3 1134.8 1143.8 1137.4 1143.8 1137.4 1126 1140 1126 1140 1126 1142.5 1126 1142.5 1126 1145.1 1126 1145.1 1126 1147.7 1126 1147.7 1138.5 1150.3 1138.5 1150.3 1138.5 1152.9 1138.5 1152.9 1138.5 1155.4 1138.5 1155.4 1147.4 1158 1147.4 1158 1147.4 1160.6 1147.4 1160.6 1126 1163.2 1126 1163.2 1126 1165.8 1126 1165.8 1126 1168.4 1126 1168.4 1126 1170.9 1126 1170.9 1126 1173.5 1126 1173.5 1142.4 1176.1 1142.4 1176.1 1142.4 1178.7 1142.4 1178.7 1133 1181.3 1133 1181.3 1133 1183.9 1133 1183.8 1133 1186.4 1133 1186.4 1133 1189 1133 1189 1144.2 1191.6 1144.2 1191.6 1144.2 1194.2 1144.2 1194.2 1148 1196.8 1148 1196.8 1150.2 1199.3 1150.2 1199.3 1146.2 1201.9 1146.2 1201.9 1146.2 1204.5 1146.2 1204.5 1139.8 1207.1 1139.8 1207.1 1139.8 1209.7 1139.8 1209.7 1032.8 1212.3 1032.8 1212.3 1032.8 1214.8 1032.8 1214.8 1032.8 1217.4 1032.8 1217.4 1144.3 1220 1144.3 1220 1126 1222.6 1126 1222.6 1126 1225.2 1126 1225.2 1126 1227.7 1126 1227.7 1126 1230.3 1126 1230.3 1150.5 1232.9 1150.5 1232.9 1148.9 1235.5 1148.9 1235.5 1142.2 1238.1 1142.2 1238.1 1141.4 1240.7 1141.4 1240.7 1122.2 1243.2 1122.2 1243.2 1122.2 1245.8 1122.2 1245.8 1122.2 1248.4 1122.2 1248.4 1140.6 1251 1140.6 1251 1130.2 1253.6 1130.2 1253.6 1130.2 1256.1 1130.2 1256.1 1130.2 1258.7 1130.2 1258.7 1141.7 1261.3 1141.7 1261.3 1144.6 1263.9 1144.6 1263.9 734 1266.5 734 1266.5 734 1269.1 734 1269.1 734 1271.6 734 1271.6 832 1274.2 832 1274.2 1087 1276.8 1087 1276.8 1055.6 1279.4 1055.6 1279.4 1027.4 1282 1027.4 1282 1027.4 1284.5 1027.4 1284.5 1027.4 1287.1 1027.4 1287.1 1054 1289.7 1054 1289.7 1054 1292.3 1054 1292.3 1054 1294.9 1054 1294.9 1054 1297.5 1054 1297.5 1054 1300 1054 1300 1011.9 1302.6 1011.9 1302.6 1011.9 1305.2 1011.9 1305.2 1011.9 1307.8 1011.9 1307.8 1028.4 1310.4 1028.4 1310.4 1028.4 1313 1028.4 1312.9 1040.5 1315.5 1040.5 1315.5 1060.6 1318.1 1060.6 1318.1 1098 1320.7 1098 1320.7 1098 1323.3 1098 1323.3 1111 1325.9 1111 1325.9 1118.7 1328.4 1118.7 1328.4 1118.7 1331 1118.7 1331 1131 1333.6 1131 1333.6 1131 1336.2 1131 1336.2 1140.9 1338.8 1140.9 1338.8 1132.9 1341.4 1132.9 1341.4 1132.9 1343.9 1132.9 1343.9 1132.9 1346.5 1132.9 1346.5 1135.8 1349.1 1135.8 1349.1 1135.8 1351.7 1135.8 1351.7 1139.3 1354.3 1139.3 1354.3 1139.3 1356.8 1139.3 1356.8 1140.8 1359.4 1140.8 1359.4 1140.8 1362 1140.8 1362 1095 1364.6 1095 1364.6 1095 1367.2 1095 1367.2 796.2 1369.8 796.2 1369.8 796.2 1372.3 796.2 1372.3 796.2 1374.9 796.2 1374.9 1137.1 1377.5 1137.1 1377.5 1137.1 1380.1 1137.1 1380.1 1137.1 1382.7 1137.1 1382.7 1140.3 1385.2 1140.3 1385.2 1137.7 1387.8 1137.7 1387.8 1137.7 1390.4 1137.7 1390.4 1137.7 1393 1137.7 1393 1145.5 1395.6 1145.5 1395.6 1145.8 1398.2 1145.8 1398.2 1141.6 1400.7 1141.6 1400.7 1141.6 1403.3 1141.6 1403.3 1141.6 1405.9 1141.6 1405.9 1147.8 1408.5 1147.8 1408.5 1147.8 1411.1 1147.8 1411.1 1143.2 1413.6 1143.2 1413.6 1142.8 1416.2 1142.8 1416.2 1142.8 1418.8 1142.8 1418.8 1142.2 1421.4 1142.2 1421.4 1141.9 1424 1141.9 1424 1128.1 1426.6 1128.1 1426.6 1128.1 1429.1 1128.1 1429.1 1128.1 1431.7 1128.1 1431.7 1137.2 1434.3 1137.2 1434.3 1137.2 1436.9 1137.2 1436.9 1137.2 1439.5 1137.2 1439.5 1144.9 1442 1144.9 1442 1144.7 1444.6 1144.7 1444.6 1144.7 1447.2 1144.7 1447.2 1144.7 1449.8 1144.7 1449.8 1145 1452.4 1145 1452.4 1145 1455 1145 1455 1135 1457.5 1135 1457.5 1135 1460.1 1135 1460.1 1135 1462.7 1135 1462.7 1136.4 1465.3 1136.4 1465.3 1136.4 1467.9 1136.4 1467.9 1139.7 1470.5 1139.7 1470.5 1138.4 1473 1138.4 1473 1138.4 1475.6 1138.4 1475.6 1138.4 1478.2 1138.4 1478.2 1148 1480.8 1148 1480.8 1128 1483.4 1128 1483.4 1128 1485.9 1128 1485.9 1128 1488.5 1128 1488.5 1147.6 1491.1 1147.6 1491.1 1089.8 1493.7 1089.8 1493.7 1089.8 1496.3 1089.8 1496.3 1089.8 1498.9 1089.8 1498.9 1141.4 1501.4 1141.4 1501.4 1141.4 1504 1141.4 1504 1141.4 1506.6 1141.4 1506.6 1147.6 1509.2 1147.6 1509.2 1145.7 1511.8 1145.7 1511.8 1145.7 1514.3 1145.7 1514.3 1145.7 1516.9 1145.7 1516.9 1123.5 1519.5 1123.5 1519.5 1123.5 1522.1 1123.5 1522.1 1123.5 1524.7 1123.5 1524.7 1123.5 1527.3 1123.5 1527.3 1139 1529.8 1139 1529.8 1139.1 1532.4 1139.1 1532.4 1139.1 1535 1139.1 1535 1146.1 1537.6 1146.1 1537.6 1138 1540.2 1138 1540.2 1138 1542.7 1138 1542.7 1138 1545.3 1138 1545.3 1141.7 1547.9 1141.7 1547.9 1142.2 1550.5 1142.2 1550.5 1140.6 1553.1 1140.6 1553.1 1140.6 1555.7 1140.6 1555.7 1136.2 1558.2 1136.2 1558.2 1136.2 1560.8 1136.2 1560.8 1136.2 1563.4 1136.2 1563.4 1135.5 1566 1135.5 1566 1133.5 1568.6 1133.5 1568.6 1133.5 1571.2 1133.5 1571.1 1133.5 1573.7 1133.5 1573.7 970.2 1576.3 970.2 1576.3 970.2 1578.9 970.2 1578.9 970.2 1581.5 970.2 1581.5 1105 1584.1 1105 1584.1 661 1586.6 661 1586.6 661 1589.2 661 1589.2 661 1591.8 661 1591.8 931 1594.4 931 1594.4 931 1597 931 1597 1072 1599.6 1072 1599.6 1072 1602.1 1072 1602.1 1141 1604.7 1141 1604.7 1141 1607.3 1141 1607.3 1131.8 1609.9 1131.8 1609.9 1131.8 1612.5 1131.8 1612.5 1131.8 1615 1131.8 1615 1143.7 1617.6 1143.7 1617.6 1143.7 1620.2 1143.7 1620.2 1143.7 1622.8 1143.7 1622.8 1128.8 1625.4 1128.8 1625.4 1128.8 1628 1128.8 1628 1123.2 1630.5 1123.2 1630.5 1123.2 1633.1 1123.2 1633.1 1123.2 1635.7 1123.2 1635.7 1140.1 1638.3 1140.1 1638.3 1140.1 1640.9 1140.1 1640.9 1132.4 1643.4 1132.4 1643.4 1132.4 1646 1132.4 1646 1132.4 1648.6 1132.4 1648.6 1146.8 1651.2 1146.8 1651.2 1143 1653.8 1143 1653.8 1143 1656.4 1143 1656.4 1143 1658.9 1143 1658.9 1146.6 1661.5 1146.6 1661.5 1146.6 1664.1 1146.6 1664.1 1146.6 1666.7 1146.6 1666.7 1147.5 1669.3 1147.5 1669.3 1147.4 1671.8 1147.4 1671.8 1146 1674.4 1146 1674.4 1146 1677 1146 1677 1146 1679.6 1146 1679.6 1149.8 1682.2 1149.8 1682.2 1149 1684.8 1149 1684.8 1139.6 1687.3 1139.6 1687.3 1139.6 1689.9 1139.6 1689.9 1139.6 1692.5 1139.6 1692.5 1061 1695.1 1061 1695.1 1061 1697.7 1061 1697.7 1061 1700.2 1061 1700.2 1145.1 1702.8 1145.1 1702.8 1139.7 1705.4 1139.7 1705.4 1139.7 1708 1139.7 1708 1139.7 1710.6 1139.7 1710.6 1144.1 1713.2 1144.1 1713.2 1124.1 1715.7 1124.1 1715.7 1124.1 1718.3 1124.1 1718.3 1124.1 1720.9 1124.1 1720.9 1143.4 1723.5 1143.4 1723.5 1145.2 1726.1 1145.2 1726.1 1145.2 1728.7 1145.2 1728.7 1145.2 1731.2 1145.2 1731.2 1146.6 1733.8 1146.6 1733.8 1143.7 1736.4 1143.7 1736.4 1121 1739 1121 1739 1121 1741.6 1121 1741.6 1121 1744.1 1121 1744.1 1138.2 1746.7 1138.2 1746.7 1138.2 1749.3 1138.2 1749.3 1138.2 1751.9 1138.2 1751.9 1141.8 1754.5 1141.8 1754.5 1141.8 1757.1 1141.8 1757.1 1141.8 1759.6 1141.8 1759.6 1142.1 1762.2 1142.1 1762.2 1135.5 1764.8 1135.5 1764.8 1135.5 1767.4 1135.5 1767.4 1135.5 1770 1135.5 1770 1147.5 1772.5 1147.5 1772.5 1149 1775.1 1149 1775.1 1146.1 1777.7 1146.1 1777.7 1146.1 1780.3 1146.1 1780.3 1143.2 1782.9 1143.2 1782.9 1143.2 1785.5 1143.2 1785.5 1143.2 1788 1143.2 1788 1147.1 1790.6 1147.1 1790.6 1128.8 1793.2 1128.8 1793.2 1128.8 1795.8 1128.8 1795.8 1128.8 1798.4 1128.8 1798.4 1147 1800.9 1147 1800.9 1143.7 1803.5 1143.7 1803.5 1143.6 1806.1 1143.6 1806.1 1143.6 1808.7 1143.6 1808.7 1141.7 1811.3 1141.7 1811.3 1141.7 1813.9 1141.7 1813.9 1092.5 1816.4 1092.5 1816.4 1092.5 1819 1092.5 1819 1092.5 1821.6 1092.5 1821.6 1115.5 1824.2 1115.5 1824.2 1115.5 1826.8 1115.5 1826.8 1149.8 1829.3 1149.8 1829.3 1149.8 1831.9 1149.8 1831.9 1152.8 1834.5 1152.8 1834.5 1128.8 1837.1 1128.8 1837.1 1128.8 1839.7 1128.8 1839.7 1128.8 1842.3 1128.8 1842.3 1146.8 1844.8 1146.8 1844.8 1142.8 1847.4 1142.8 1847.4 1137.9 1850 1137.9 1850 1137.9 1852.6 1137.9 1852.6 1137.9 1855.2 1137.9 1855.2 1143.6 1857.8 1143.6 1857.8 1133 1860.3 1133 1860.3 1133 1862.9 1133 1862.9 1133 1865.5 1133 1865.5 1133 1868.1 1133 1868.1 1133 1870.7 1133 1870.7 1150.3 1873.2 1150.3 1873.2 1139 1875.8 1139 1875.8 1137.6 1878.4 1137.6 1878.4 1137.6 1881 1137.6 1881 1137.6 1883.6 1137.6 1883.6 1144.6 1886.2 1144.6 1886.2 1144.6 1888.7 1144.6 1888.7 1145.2 1891.3 1145.2 1891.3 1145.2 1893.9 1145.2 1893.9 1145.2 1896.5 1145.2 1896.5 1146.6 1899.1 1146.6 1899.1 1146.6 1901.6 1146.6 1901.6 1152 1904.2 1152 1904.2 1150 1906.8 1150 1906.8 1150 1909.4 1150 1909.4 1150 1912 1150 1912 1149.7 1914.6 1149.7 1914.6 1149.7 1917.1 1149.7 1917.1 1149.7 1919.7 1149.7 1919.7 1140.9 1922.3 1140.9 1922.3 1140.9 1924.9 1140.9 1924.9 1140.9 1927.5 1140.9 1927.5 1121 1930 1121 1930 1121 1932.6 1121 1932.6 1121 1935.2 1121 1935.2 1146.9 1937.8 1146.9 1937.8 1147.7 1940.4 1147.7 1940.4 1146.9 1943 1146.9 1943 1140 1945.5 1140 1945.5 1140 1948.1 1140 1948.1 1140 1950.7 1140 1950.7 1145.6 1953.3 1145.6 1953.3 1145.6 1955.9 1145.6 1955.9 1131 1958.5 1131 1958.4 1131 1961 1131 1961 1131 1963.6 1131 1963.6 1144.6 1966.2 1144.6 1966.2 1143.6 1968.8 1143.6 1968.8 1143.6 1971.4 1143.6 1971.4 1143.6 1973.9 1143.6 1973.9 1143.9 1976.5 1143.9 1976.5 1144 1979.1 1144 1979.1 1140.2 1981.7 1140.2 1981.7 1140.2 1984.3 1140.2 1984.3 1140.2 1986.9 1140.2 1986.9 1148.5 1989.4 1148.5 1989.4 1138.5 1992 1138.5 1992 1138.5 1994.6 1138.5 1994.6 1135.4 1997.2 1135.4 1997.2 1135.4 1999.8 1135.4 1999.8 1135.4 2002.3 1135.4 2002.3 1140.2 2004.9 1140.2 2004.9 1140.2 2007.5 1140.2 2007.5 1144.6 2010.1 1144.6 2010.1 1144.6 2012.7 1144.6 2012.7 1142.5 2015.3 1142.5 2015.3 986 2017.8 986 2017.8 986 2020.4 986 2020.4 986 2023 986 2023 1137.2 2025.6 1137.2 2025.6 1141.1 2028.2 1141.1 2028.2 1141.1 2030.7 1141.1 2030.7 1115.5 2033.3 1115.5 2033.3 1115.5 2035.9 1115.5 2035.9 1115.5 2038.5 1115.5 2038.5 1115.5 2041.1 1115.5 2041.1 1118 2043.7 1118 2043.7 1118 2046.2 1118 2046.2 1118 2048.8 1118 2048.8 1134.7 2051.4 1134.7 2051.4 1130.4 2054 1130.4 2054 1130.4 2056.6 1130.4 2056.6 1130.4 2059.1 1130.4 2059.1 1134.1 2061.7 1134.1 2061.7 1134.1 2064.3 1134.1 2064.3 1141.9 2066.9 1141.9 2066.9 1140 2069.5 1140 2069.5 1140 2072.1 1140 2072.1 1140 2074.6 1140 2074.6 1142.8 2077.2 1142.8 2077.2 1142.8 2079.8 1142.8 2079.8 1126 2082.4 1126 2082.4 1126 2085 1126 2085 1126 2087.5 1126 2087.6 1126 2090.1 1126 2090.1 1122 2092.7 1122 2092.7 1113 2095.3 1113 2095.3 1113 2097.9 1113 2097.9 1113 2100.5 1113 2100.5 1116 2103 1116 2103 1120 2105.6 1120 2105.6 1120 2108.2 1120 2108.2 1120 2110.8 1120 2110.8 1131.4 2113.4 1131.4 2113.4 1108 2116 1108 2116 1108 2118.5 1108 2118.5 1108 2121.1 1108 2121.1 1135.8 2123.7 1135.8 2123.7 978.2 2126.3 978.2 2126.3 978.2 2128.9 978.2 2128.9 697.4 2131.4 697.4 2131.4 697.4 2134 697.4 2134 697.4 2136.6 697.4 2136.6 1118.5 2139.2 1118.5 2139.2 1118.5 2141.8 1118.5 2141.8 1118.5 2144.4 1118.5 2144.4 1134.3 2146.9 1134.3 2146.9 1129.1 2149.5 1129.1 2149.5 1129.1 2152.1 1129.1 2152.1 1129.1 2154.7 1129.1 2154.7 1135.8 2157.3 1135.8 2157.3 1135.8 2159.8 1135.8 2159.8 1138.1 2162.4 1138.1 2162.4 1132.7 2165 1132.7 2165 1132.7 2167.6 1132.7 2167.6 1132.7 2170.2 1132.7 2170.2 1140.6 2172.8 1140.6 2172.8 1135.3 2175.3 1135.3 2175.3 1135.3 2177.9 1135.3 2177.9 1135.3 2180.5 1135.3 2180.5 1137.6 2183.1 1137.6 2183.1 1124 2185.7 1124 2185.7 1124 2188.2 1124 2188.2 1124 2190.8 1124 2190.8 1141.4 2193.4 1141.4 2193.4 1138.3 2196 1138.3 2196 1138.3 2198.6 1138.3 2198.6 1138.3 2201.2 1138.3 2201.2 1141 2203.7 1141 2203.7 1142.9 2206.3 1142.9 2206.3 1142.9 2208.9 1142.9 2208.9 1142.9 2211.5 1142.9 2211.5 1142.9 2214.1 1142.9 2214.1 1087.6 2216.6 1087.6 2216.7 1087.6 2219.2 1087.6 2219.2 1087.6 2221.8 1087.6 2221.8 1138.5 2224.4 1138.5 2224.4 1142.3 2227 1142.3 2227 1122 2229.6 1122 2229.6 1122 2232.1 1122 2232.1 1122 2234.7 1122 2234.7 1112.5 2237.3 1112.5 2237.3 1112.5 2239.9 1112.5 2239.9 1112.5 2242.5 1112.5 2242.5 1140 2245.1 1140 2245.1 1140 2247.6 1140 2247.6 1132.2 2250.2 1132.2 2250.2 1132.2 2252.8 1132.2 2252.8 1132.2 2255.4 1132.2 2255.4 1143.5 2258 1143.5 2258 1121.5 2260.5 1121.5 2260.5 1121.5 2263.1 1121.5 2263.1 1121.5 2265.7 1121.5 2265.7 1122.2 2268.3 1122.2 2268.3 1111 2270.9 1111 2270.9 1111 2273.5 1111 2273.5 1111 2276 1111 2276 1140.2 2278.6 1140.2 2278.6 1135 2281.2 1135 2281.2 1135 2283.8 1135 2283.8 1130.4 2286.4 1130.4 2286.4 1130.4 2288.9 1130.4 2288.9 1130.4 2291.5 1130.4 2291.5 1132.7 2294.1 1132.7 2294.1 1134.3 2296.7 1134.3 2296.7 1134.3 2299.3 1134.3 2299.3 1135.2 2301.9 1135.2 2301.9 1135.2 2304.4 1135.2 2304.4 1134.6 2307 1134.6 2307 1134.6 2309.6 1134.6 2309.6 1134.6 2312.2 1134.6 2312.2 1135.1 2314.8 1135.1 2314.8 1135.1 2317.3 1135.1 2317.3 1135.1 2319.9 1135.1 2319.9 1134.3 2322.5 1134.3 2322.5 1125.2 2325.1 1125.2 2325.1 1125.2 2327.7 1125.2 2327.7 1125.2 2330.3 1125.2 2330.3 1136.9 2332.8 1136.9 2332.8 1136.5 2335.4 1136.5 2335.4 1130.1 2338 1130.1 2338 1128.7 2340.6 1128.7 2340.6 1123.8 2343.2 1123.8 2343.2 1123.8 2345.8 1123.8 2345.8 1233.1 2343.2 1233.1 2343.2 1233.1 2340.6 1233.1 2340.6 1233.1 2338 1233.1 2338 1229.5 2335.4 1229.5 2335.4 1229.5 2332.8 1229.5 2332.8 1229.5 2330.3 1229.5 2330.3 1230.8 2327.7 1230.8 2327.7 1234.7 2325.1 1234.7 2325.1 1234.7 2322.5 1234.7 2322.5 1234.7 2319.9 1234.7 2319.9 1230 2317.3 1230 2317.3 1230 2314.8 1230 2314.8 1235.5 2312.2 1235.5 2312.2 1238.1 2309.6 1238.1 2309.6 1238.1 2307 1238.1 2307 1238.1 2304.4 1238.1 2304.4 1238.7 2301.9 1238.7 2301.9 1239.9 2299.3 1239.9 2299.3 1247.3 2296.7 1247.3 2296.7 1247.3 2294.1 1247.3 2294.1 1247.3 2291.5 1247.3 2291.5 1225.6 2288.9 1225.6 2288.9 1223.6 2286.4 1223.6 2286.4 1221.1 2283.8 1221.1 2283.8 1261 2281.2 1261 2281.2 1261 2278.6 1261 2278.6 1261 2276 1261 2276 1236.4 2273.5 1236.4 2273.5 1236.4 2270.9 1236.4 2270.9 1220.4 2268.3 1220.4 2268.3 1225.4 2265.7 1225.4 2265.7 1227 2263.1 1227 2263.1 1227 2260.5 1227 2260.5 1227 2258 1227 2258 1221.1 2255.4 1221.1 2255.4 1222.7 2252.8 1222.7 2252.8 1229.5 2250.2 1229.5 2250.2 1229.5 2247.6 1229.5 2247.6 1229.5 2245.1 1229.5 2245.1 1223.9 2242.5 1223.9 2242.5 1223.9 2239.9 1223.9 2239.9 1258 2237.3 1258 2237.3 1258 2234.7 1258 2234.7 1258 2232.1 1258 2232.1 1232.1 2229.6 1232.1 2229.6 1230 2227 1230 2227 1230 2224.4 1230 2224.4 1230 2221.8 1230 2221.8 1224.2 2219.2 1224.2 2219.2 1231.6 2216.7 1231.6 2216.6 1231.6 2214.1 1231.6 2214.1 1231.7 2211.5 1231.7 2211.5 1231.7 2208.9 1231.7 2208.9 1231.7 2206.3 1231.7 2206.3 1225.6 2203.7 1225.6 2203.7 1225.6 2201.2 1225.6 2201.2 1225.4 2198.6 1225.4 2198.6 1233.8 2196 1233.8 2196 1243.5 2193.4 1243.5 2193.4 1243.5 2190.8 1243.5 2190.8 1243.5 2188.2 1243.5 2188.2 1242.2 2185.7 1242.2 2185.7 1234.9 2183.1 1234.9 2183.1 1234.9 2180.5 1234.9 2180.5 1234.9 2177.9 1234.9 2177.9 1230 2175.3 1230 2175.3 1233.4 2172.8 1233.4 2172.8 1235.6 2170.2 1235.6 2170.2 1235.6 2167.6 1235.6 2167.6 1235.6 2165 1235.6 2165 1243.4 2162.4 1243.4 2162.4 1243.4 2159.8 1243.4 2159.8 1243.4 2157.3 1243.4 2157.3 1240.3 2154.7 1240.3 2154.7 1240.3 2152.1 1240.3 2152.1 1230.9 2149.5 1230.9 2149.5 1230.3 2146.9 1230.3 2146.9 1228.9 2144.4 1228.9 2144.4 1237.7 2141.8 1237.7 2141.8 1237.7 2139.2 1237.7 2139.2 1237.7 2136.6 1237.7 2136.6 1234.6 2134 1234.6 2134 1234.6 2131.4 1234.6 2131.4 1234.6 2128.9 1234.6 2128.9 1233 2126.3 1233 2126.3 1235.6 2123.7 1235.6 2123.7 1235.6 2121.1 1235.6 2121.1 1235.6 2118.5 1235.6 2118.5 1239.3 2116 1239.3 2116 1239.3 2113.4 1239.3 2113.4 1239.3 2110.8 1239.3 2110.8 1230.5 2108.2 1230.5 2108.2 1236.1 2105.6 1236.1 2105.6 1237.6 2103 1237.6 2103 1237.6 2100.5 1237.6 2100.5 1242.8 2097.9 1242.8 2097.9 1242.8 2095.3 1242.8 2095.3 1242.8 2092.7 1242.8 2092.7 1225.6 2090.1 1225.6 2090.1 1225.6 2087.6 1225.6 2087.5 1224.1 2085 1224.1 2085 1226 2082.4 1226 2082.4 1226 2079.8 1226 2079.8 1230.1 2077.2 1230.1 2077.2 1230.1 2074.6 1230.1 2074.6 1230.1 2072.1 1230.1 2072.1 1239.8 2069.5 1239.8 2069.5 1239.8 2066.9 1239.8 2066.9 1239.8 2064.3 1239.8 2064.3 1234.3 2061.7 1234.3 2061.7 1234.3 2059.1 1234.3 2059.1 1231.2 2056.6 1231.2 2056.6 1229.6 2054 1229.6 2054 1230.4 2051.4 1230.4 2051.4 1230.4 2048.8 1230.4 2048.8 1230.4 2046.2 1230.4 2046.2 1230.6 2043.7 1230.6 2043.7 1230.6 2041.1 1230.6 2041.1 1245.9 2038.5 1245.9 2038.5 1245.9 2035.9 1245.9 2035.9 1245.9 2033.3 1245.9 2033.3 1232.3 2030.7 1232.3 2030.7 1232.3 2028.2 1232.3 2028.2 1232.3 2025.6 1232.3 2025.6 1241.3 2023 1241.3 2023 1241.3 2020.4 1241.3 2020.4 1241.3 2017.8 1241.3 2017.8 1239.2 2015.3 1239.2 2015.3 1239.2 2012.7 1239.2 2012.7 1236.5 2010.1 1236.5 2010.1 1236.5 2007.5 1236.5 2007.5 1240.5 2004.9 1240.5 2004.9 1245.7 2002.3 1245.7 2002.3 1245.7 1999.8 1245.7 1999.8 1245.7 1997.2 1245.7 1997.2 1233.9 1994.6 1233.9 1994.6 1240.7 1992 1240.7 1992 1240.7 1989.4 1240.7 1989.4 1240.7 1986.9 1240.7 1986.9 1238 1984.3 1238 1984.3 1232.3 1981.7 1232.3 1981.7 1238.1 1979.1 1238.1 1979.1 1238.1 1976.5 1238.1 1976.5 1238.4 1973.9 1238.4 1973.9 1238.4 1971.4 1238.4 1971.4 1238.4 1968.8 1238.4 1968.8 1239.6 1966.2 1239.6 1966.2 1249.8 1963.6 1249.8 1963.6 1249.8 1961 1249.8 1961 1249.8 1958.4 1249.8 1958.5 1246.7 1955.9 1246.7 1955.9 1246.7 1953.3 1246.7 1953.3 1246.7 1950.7 1246.7 1950.7 1236.9 1948.1 1236.9 1948.1 1234.8 1945.5 1234.8 1945.5 1237.5 1943 1237.5 1943 1249.9 1940.4 1249.9 1940.4 1249.9 1937.8 1249.9 1937.8 1249.9 1935.2 1249.9 1935.2 1241.7 1932.6 1241.7 1932.6 1238.1 1930 1238.1 1930 1236.2 1927.5 1236.2 1927.5 1238.7 1924.9 1238.7 1924.9 1242.4 1922.3 1242.4 1922.3 1242.4 1919.7 1242.4 1919.7 1242.4 1917.1 1242.4 1917.1 1238.9 1914.6 1238.9 1914.6 1238.9 1912 1238.9 1912 1236.1 1909.4 1236.1 1909.4 1246.4 1906.8 1246.4 1906.8 1246.4 1904.2 1246.4 1904.2 1246.4 1901.6 1246.4 1901.6 1237.3 1899.1 1237.3 1899.1 1263 1896.5 1263 1896.5 1263 1893.9 1263 1893.9 1263 1891.3 1263 1891.3 1241.1 1888.7 1241.1 1888.7 1241.1 1886.2 1241.1 1886.2 1237.9 1883.6 1237.9 1883.6 1237.9 1881 1237.9 1881 1232.3 1878.4 1232.3 1878.4 1236.5 1875.8 1236.5 1875.8 1236.5 1873.2 1236.5 1873.2 1236.5 1870.7 1236.5 1870.7 1235.3 1868.1 1235.3 1868.1 1233.9 1865.5 1233.9 1865.5 1238.3 1862.9 1238.3 1862.9 1238.3 1860.3 1238.3 1860.3 1238.3 1857.8 1238.3 1857.8 1236.2 1855.2 1236.2 1855.2 1234.6 1852.6 1234.6 1852.6 1240.8 1850 1240.8 1850 1240.8 1847.4 1240.8 1847.4 1240.8 1844.8 1240.8 1844.8 1240.4 1842.3 1240.4 1842.3 1240.4 1839.7 1240.4 1839.7 1240.7 1837.1 1240.7 1837.1 1251.8 1834.5 1251.8 1834.5 1251.8 1831.9 1251.8 1831.9 1251.8 1829.3 1251.8 1829.3 1247.1 1826.8 1247.1 1826.8 1247.1 1824.2 1247.1 1824.2 1256 1821.6 1256 1821.6 1256 1819 1256 1819 1256 1816.4 1256 1816.4 1240.2 1813.9 1240.2 1813.9 1247.2 1811.3 1247.2 1811.3 1247.2 1808.7 1247.2 1808.7 1247.2 1806.1 1247.2 1806.1 1235.1 1803.5 1235.1 1803.5 1236 1800.9 1236 1800.9 1236 1798.4 1236 1798.4 1236 1795.8 1236 1795.8 1234.3 1793.2 1234.3 1793.2 1236.7 1790.6 1236.7 1790.6 1236.7 1788 1236.7 1788 1240.1 1785.5 1240.1 1785.5 1240.8 1782.9 1240.8 1782.9 1240.8 1780.3 1240.8 1780.3 1240.8 1777.7 1240.8 1777.7 1236.5 1775.1 1236.5 1775.1 1237.3 1772.5 1237.3 1772.5 1237.8 1770 1237.8 1770 1237.8 1767.4 1237.8 1767.4 1237.8 1764.8 1237.8 1764.8 1235.7 1762.2 1235.7 1762.2 1245.7 1759.6 1245.7 1759.6 1245.7 1757.1 1245.7 1757.1 1245.7 1754.5 1245.7 1754.5 1236 1751.9 1236 1751.9 1236 1749.3 1236 1749.3 1234.6 1746.7 1234.6 1746.7 1244.6 1744.1 1244.6 1744.1 1244.6 1741.6 1244.6 1741.6 1244.6 1739 1244.6 1739 1243.2 1736.4 1243.2 1736.4 1243.2 1733.8 1243.2 1733.8 1243.3 1731.2 1243.3 1731.2 1243.3 1728.7 1243.3 1728.7 1243.3 1726.1 1243.3 1726.1 1240.7 1723.5 1240.7 1723.5 1240.7 1720.9 1240.7 1720.9 1263.4 1718.3 1263.4 1718.3 1263.4 1715.7 1263.4 1715.7 1263.4 1713.2 1263.4 1713.2 1241.2 1710.6 1241.2 1710.6 1240 1708 1240 1708 1239.6 1705.4 1239.6 1705.4 1245 1702.8 1245 1702.8 1250.2 1700.2 1250.2 1700.2 1250.2 1697.7 1250.2 1697.7 1250.2 1695.1 1250.2 1695.1 1240.8 1692.5 1240.8 1692.5 1240.8 1689.9 1240.8 1689.9 1240.8 1687.3 1240.8 1687.3 1235.4 1684.8 1235.4 1684.8 1235.4 1682.2 1235.4 1682.2 1233.9 1679.6 1233.9 1679.6 1233.9 1677 1233.9 1677 1238.1 1674.4 1238.1 1674.4 1238.1 1671.8 1238.1 1671.8 1238.1 1669.3 1238.1 1669.3 1238.5 1666.7 1238.5 1666.7 1238.5 1664.1 1238.5 1664.1 1238.5 1661.5 1238.5 1661.5 1236.7 1658.9 1236.7 1658.9 1236.7 1656.4 1236.7 1656.4 1235.6 1653.8 1235.6 1653.8 1236.4 1651.2 1236.4 1651.2 1240.3 1648.6 1240.3 1648.6 1240.3 1646 1240.3 1646 1240.3 1643.4 1240.3 1643.4 1233 1640.9 1233 1640.9 1233 1638.3 1233 1638.3 1233 1635.7 1233 1635.7 1232.9 1633.1 1232.9 1633.1 1247.7 1630.5 1247.7 1630.5 1247.7 1628 1247.7 1628 1247.7 1625.4 1247.7 1625.4 1237.3 1622.8 1237.3 1622.8 1237.3 1620.2 1237.3 1620.2 1236.4 1617.6 1236.4 1617.6 1236.4 1615 1236.4 1615 1236.4 1612.5 1236.4 1612.5 1235.7 1609.9 1235.7 1609.9 1234.2 1607.3 1234.2 1607.3 1234.4 1604.7 1234.4 1604.7 1239.4 1602.1 1239.4 1602.1 1239.4 1599.6 1239.4 1599.6 1239.4 1597 1239.4 1597 1237.4 1594.4 1237.4 1594.4 1237.4 1591.8 1237.4 1591.8 1239 1589.2 1239 1589.2 1246.5 1586.6 1246.5 1586.6 1246.5 1584.1 1246.5 1584.1 1246.5 1581.5 1246.5 1581.5 1236.7 1578.9 1236.7 1578.9 1236.7 1576.3 1236.7 1576.3 1235.8 1573.7 1235.8 1573.7 1232.4 1571.1 1232.4 1571.2 1231.3 1568.6 1231.3 1568.6 1236.6 1566 1236.6 1566 1240.9 1563.4 1240.9 1563.4 1240.9 1560.8 1240.9 1560.8 1240.9 1558.2 1240.9 1558.2 1234.9 1555.7 1234.9 1555.7 1234.9 1553.1 1234.9 1553.1 1237.1 1550.5 1237.1 1550.5 1237.1 1547.9 1237.1 1547.9 1237.1 1545.3 1237.1 1545.3 1236.1 1542.7 1236.1 1542.7 1241.6 1540.2 1241.6 1540.2 1241.6 1537.6 1241.6 1537.6 1246.5 1535 1246.5 1535 1246.5 1532.4 1246.5 1532.4 1247.9 1529.8 1247.9 1529.8 1251.4 1527.3 1251.4 1527.3 1251.4 1524.7 1251.4 1524.7 1251.4 1522.1 1251.4 1522.1 1239.3 1519.5 1239.3 1519.5 1239.3 1516.9 1239.3 1516.9 1239.4 1514.3 1239.4 1514.3 1239.4 1511.8 1239.4 1511.8 1239.4 1509.2 1239.4 1509.2 1236.2 1506.6 1236.2 1506.6 1249 1504 1249 1504 1249 1501.4 1249 1501.4 1249 1498.9 1249 1498.9 1242 1496.3 1242 1496.3 1244.5 1493.7 1244.5 1493.7 1246.5 1491.1 1246.5 1491.1 1246.5 1488.5 1246.5 1488.5 1246.5 1485.9 1246.5 1485.9 1237.1 1483.4 1237.1 1483.4 1237.1 1480.8 1237.1 1480.8 1235.7 1478.2 1235.7 1478.2 1235.8 1475.6 1235.8 1475.6 1235.8 1473 1235.8 1473 1238.2 1470.5 1238.2 1470.5 1240.7 1467.9 1240.7 1467.9 1240.7 1465.3 1240.7 1465.3 1240.7 1462.7 1240.7 1462.7 1238.7 1460.1 1238.7 1460.1 1234.7 1457.5 1234.7 1457.5 1234.7 1455 1234.7 1455 1241.1 1452.4 1241.1 1452.4 1241.1 1449.8 1241.1 1449.8 1241.1 1447.2 1241.1 1447.2 1239.3 1444.6 1239.3 1444.6 1236.3 1442 1236.3 1442 1238.3 1439.5 1238.3 1439.5 1238.3 1436.9 1238.3 1436.9 1238.3 1434.3 1238.3 1434.3 1228.4 1431.7 1228.4 1431.7 1236.1 1429.1 1236.1 1429.1 1236.1 1426.6 1236.1 1426.6 1236.1 1424 1236.1 1424 1260 1421.4 1260 1421.4 1260 1418.8 1260 1418.8 1260 1416.2 1260 1416.2 1240.7 1413.6 1240.7 1413.6 1237.5 1411.1 1237.5 1411.1 1237.5 1408.5 1237.5 1408.5 1235.9 1405.9 1235.9 1405.9 1235.9 1403.3 1235.9 1403.3 1238.2 1400.7 1238.2 1400.7 1238.2 1398.2 1238.2 1398.2 1238.2 1395.6 1238.2 1395.6 1236 1393 1236 1393 1236 1390.4 1236 1390.4 1236 1387.8 1236 1387.8 1235.3 1385.2 1235.3 1385.2 1235.3 1382.7 1235.3 1382.7 1235.3 1380.1 1235.3 1380.1 1236.4 1377.5 1236.4 1377.5 1236.4 1374.9 1236.4 1374.9 1236.4 1372.3 1236.4 1372.3 1231.9 1369.8 1231.9 1369.8 1242.6 1367.2 1242.6 1367.2 1242.6 1364.6 1242.6 1364.6 1242.6 1362 1242.6 1362 1235 1359.4 1235 1359.4 1239.8 1356.8 1239.8 1356.8 1239.8 1354.3 1239.8 1354.3 1253.5 1351.7 1253.5 1351.7 1253.5 1349.1 1253.5 1349.1 1253.5 1346.5 1253.5 1346.5 1238.2 1343.9 1238.2 1343.9 1246.8 1341.4 1246.8 1341.4 1246.8 1338.8 1246.8 1338.8 1246.8 1336.2 1246.8 1336.2 1238.5 1333.6 1238.5 1333.6 1250.3 1331 1250.3 1331 1250.3 1328.4 1250.3 1328.4 1218.8 1325.9 1218.8 1325.9 1208 1323.3 1208 1323.3 1199 1320.7 1199 1320.7 1195.6 1318.1 1195.6 1318.1 1191 1315.5 1191 1315.5 1185.2 1312.9 1185.2 1313 1183.3 1310.4 1183.3 1310.4 1183.1 1307.8 1183.1 1307.8 1185.2 1305.2 1185.2 1305.2 1185.4 1302.6 1185.4 1302.6 1184.9 1300 1184.9 1300 1188.4 1297.5 1188.4 1297.5 1199.7 1294.9 1199.7 1294.9 1223.2 1292.3 1223.2 1292.3 1222.4 1289.7 1222.4 1289.7 1223.3 1287.1 1223.3 1287.1 1198.9 1284.5 1198.9 1284.5 1197.6 1282 1197.6 1282 1210.7 1279.4 1210.7 1279.4 1211 1276.8 1211 1276.8 1212.5 1274.2 1212.5 1274.2 1212.9 1271.6 1212.9 1271.6 1213.6 1269.1 1213.6 1269.1 1222.9 1266.5 1222.9 1266.5 1243.4 1263.9 1243.4 1263.9 1243.4 1261.3 1243.4 1261.3 1243.4 1258.7 1243.4 1258.7 1242.6 1256.1 1242.6 1256.1 1242.6 1253.6 1242.6 1253.6 1244.7 1251 1244.7 1251 1244.7 1248.4 1244.7 1248.4 1244.7 1245.8 1244.7 1245.8 1249 1243.2 1249 1243.2 1249 1240.7 1249 1240.7 1249 1238.1 1249 1238.1 1242.4 1235.5 1242.4 1235.5 1241.8 1232.9 1241.8 1232.9 1241.8 1230.3 1241.8 1230.3 1241.8 1227.7 1241.8 1227.7 1238.9 1225.2 1238.9 1225.2 1238.9 1222.6 1238.9 1222.6 1232 1220 1232 1220 1237 1217.4 1237 1217.4 1237 1214.8 1237 1214.8 1237 1212.3 1237 1212.3 1236.2 1209.7 1236.2 1209.7 1236.2 1207.1 1236.2 1207.1 1245.6 1204.5 1245.6 1204.5 1249.5 1201.9 1249.5 1201.9 1249.5 1199.3 1249.5 1199.3 1249.5 1196.8 1249.5 1196.8 1239.8 1194.2 1239.8 1194.2 1237.6 1191.6 1237.6 1191.6 1237.6 1189 1237.6 1189 1237.4 1186.4 1237.4 1186.4 1237.5 1183.8 1237.5 1183.9 1237.5 1181.3 1237.5 1181.3 1242.9 1178.7 1242.9 1178.7 1242.9 1176.1 1242.9 1176.1 1242.9 1173.5 1242.9 1173.5 1232.2 1170.9 1232.2 1170.9 1235.3 1168.4 1235.3 1168.4 1244.4 1165.8 1244.4 1165.8 1244.4 1163.2 1244.4 1163.2 1244.4 1160.6 1244.4 1160.6 1243.4 1158 1243.4 1158 1243.4 1155.4 1243.4 1155.4 1243.4 1152.9 1243.4 1152.9 1237 1150.3 1237 1150.3 1237.8 1147.7 1237.8 1147.7 1237.8 1145.1 1237.8 1145.1 1265 1142.5 1265 1142.5 1265 1140 1265 1140 1265 1137.4 1265 1137.4 1236 1134.8 1236 1134.8 1234.9 1132.2 1234.9 1132.2 1235.9 1129.6 1235.9 1129.6 1235.9 1127 1235.9 1127 1235.9 1124.5 1235.9 1124.5 1245.7 1121.9 1245.7 1121.9 1245.7 1119.3 1245.7 1119.3 1245.7 1116.7 1245.7 1116.7 1233.5 1114.1 1233.5 1114.1 1233.5 1111.6 1233.5 1111.6 1237.5 1109 1237.5 1109 1238.4 1106.4 1238.4 1106.4 1238.4 1103.8 1238.4 1103.8 1262 1101.2 1262 1101.2 1262 1098.6 1262 1098.6 1262 1096.1 1262 1096.1 1241.3 1093.5 1241.3 1093.5 1241.3 1090.9 1241.3 1090.9 1241.3 1088.3 1241.3 1088.3 1240.7 1085.7 1240.7 1085.7 1240.7 1083.2 1240.7 1083.2 1233.8 1080.6 1233.8 1080.6 1236.8 1078 1236.8 1078 1236.8 1075.4 1236.8 1075.4 1236.8 1072.8 1236.8 1072.8 1234.1 1070.2 1234.1 1070.2 1235.5 1067.7 1235.5 1067.7 1258.4 1065.1 1258.4 1065.1 1258.4 1062.5 1258.4 1062.5 1258.4 1059.9 1258.4 1059.9 1257 1057.3 1257 1057.3 1257 1054.8 1257 1054.8 1257 1052.2 1257 1052.2 1238.9 1049.6 1238.9 1049.6 1242.7 1047 1242.7 1047 1242.7 1044.4 1242.7 1044.4 1242.7 1041.8 1242.7 1041.8 1240.1 1039.3 1240.1 1039.3 1240.1 1036.7 1240.1 1036.7 1239.9 1034.1 1239.9 1034.1 1239.9 1031.5 1239.9 1031.5 1234.8 1028.9 1234.8 1028.9 1234.8 1026.3 1234.8 1026.3 1232 1023.8 1232 1023.8 1232 1021.2 1232 1021.2 1230.8 1018.6 1230.8 1018.6 1231.6 1016 1231.6 1016 1234.5 1013.4 1234.5 1013.4 1234.5 1010.9 1234.5 1010.9 1234.5 1008.3 1234.5 1008.3 1232.5 1005.7 1232.5 1005.7 1232.5 1003.1 1232.5 1003.1 1232.5 1000.5 1232.5 1000.5 1230.1 997.9 1230.1 997.9 1240 995.4 1240 995.4 1240 992.8 1240 992.8 1240 990.2 1240 990.2 1244.6 987.6 1244.6 987.6 1244.6 985 1244.6 985 1244.6 982.5 1244.6 982.5 1233.2 979.9 1233.2 979.9 1233.2 977.3 1233.2 977.3 1230.8 974.7 1230.8 974.7 1230.8 972.1 1230.8 972.1 1227.1 969.5 1227.1 969.5 1228.6 967 1228.6 967 1228.6 964.4 1228.6 964.4 1228.6 961.8 1228.6 961.8 1225.3 959.2 1225.3 959.2 1225.9 956.6 1225.9 956.6 1238.2 954.1 1238.2 954.1 1238.2 951.5 1238.2 951.5 1238.2 948.9 1238.2 948.9 1239.6 946.3 1239.6 946.3 1239.6 943.7 1239.6 943.7 1239.6 941.1 1239.6 941.1 1229.3 938.6 1229.3 938.6 1239.9 936 1239.9 936 1239.9 933.4 1239.9 933.4 1239.9 930.8 1239.9 930.8 1240.4 928.2 1240.4 928.2 1240.4 925.6 1240.4 925.6 1240.4 923.1 1240.4 923.1 1236.2 920.5 1236.2 920.5 1236.2 917.9 1236.2 917.9 1236.2 915.3 1236.2 915.3 1235.1 912.7 1235.1 912.7 1234.7 910.2 1234.7 910.2 1231.3 907.6 1231.3 907.6 1237 905 1237 905 1237 902.4 1237 902.4 1237 899.8 1237 899.8 1237.5 897.2 1237.5 897.2 1237.5 894.7 1237.5 894.7 1237.5 892.1 1237.5 892.1 1239 889.5 1239 889.5 1239 886.9 1239 886.9 1239 884.3 1239 884.3 1238 881.8 1238 881.8 1238 879.2 1238 879.2 1238.4 876.6 1238.4 876.6 1238.4 874 1238.4 874 1238.4 871.4 1238.4 871.4 1236.2 868.8 1236.2 868.8 1236.2 866.3 1236.2 866.3 1236.2 863.7 1236.2 863.7 1236.2 861.1 1236.2 861.1 1236.2 858.5 1236.2 858.5 1232.1 855.9 1232.1 855.9 1232.1 853.4 1232.1 853.4 1232.1 850.8 1232.1 850.8 1230.2 848.2 1230.2 848.2 1230.3 845.6 1230.3 845.6 1233 843 1233 843 1234.9 840.4 1234.9 840.4 1245.5 837.9 1245.5 837.9 1245.5 835.3 1245.5 835.3 1245.5 832.7 1245.5 832.7 1229.1 830.1 1229.1 830.1 1229.1 827.5 1229.1 827.5 1228.5 825 1228.5 825 1228.5 822.4 1228.5 822.4 1230.8 819.8 1230.8 819.8 1231.7 817.2 1231.7 817.2 1231.7 814.6 1231.7 814.6 1233.2 812 1233.2 812 1240.7 809.5 1240.7 809.5 1240.7 806.9 1240.7 806.9 1240.7 804.3 1240.7 804.3 1245.9 801.7 1245.9 801.7 1245.9 799.1 1245.9 799.1 1245.9 796.5 1245.9 796.5 1237.3 794 1237.3 794 1233.5 791.4 1233.5 791.4 1233.5 788.8 1233.5 788.8 1231.5 786.2 1231.5 786.2 1239.7 783.6 1239.7 783.6 1239.7 781.1 1239.7 781.1 1239.7 778.5 1239.7 778.5 1250.3 775.9 1250.3 775.9 1250.3 773.3 1250.3 773.3 1250.3 770.7 1250.3 770.7 1239.1 768.1 1239.1 768.1 1239.1 765.6 1239.1 765.6 1239.1 763 1239.1 763 1244.5 760.4 1244.5 760.4 1244.5 757.8 1244.5 757.8 1244.5 755.2 1244.5 755.2 1238.8 752.7 1238.8 752.7 1237.9 750.1 1237.9 750.1 1236 747.5 1236 747.5 1236.1 744.9 1236.1 744.9 1236.1 742.3 1236.1 742.3 1236.1 739.7 1236.1 739.7 1238.8 737.2 1238.8 737.2 1238.8 734.6 1238.8 734.6 1248.7 732 1248.7 732 1248.7 729.4 1248.7 729.4 1248.7 726.8 1248.7 726.8 1238.9 724.3 1238.9 724.3 1236.2 721.7 1236.2 721.7 1236.2 719.1 1236.2 719.1 1236.2 716.5 1236.2 716.5 1239 713.9 1239 713.9 1239 711.3 1239 711.3 1239 708.8 1239 708.8 1236.4 706.2 1236.4 706.2 1236.4 703.6 1236.4 703.6 1233.5 701 1233.5 701 1233.5 698.4 1233.5 698.4 1227.9 695.9 1227.9 695.9 1227.9 693.3 1227.9 693.3 1238.9 690.7 1238.9 690.7 1238.9 688.1 1238.9 688.1 1238.9 685.5 1238.9 685.5 1231.1 682.9 1231.1 682.9 1231.9 680.4 1231.9 680.4 1245.3 677.8 1245.3 677.8 1245.3 675.2 1245.3 675.2 1245.3 672.6 1245.3 672.6 1239.2 670 1239.2 670 1234 667.4 1234 667.4 1231.4 664.9 1231.4 664.9 1233.2 662.3 1233.2 662.3 1236.4 659.7 1236.4 659.7 1236.4 657.1 1236.4 657.1 1236.4 654.5 1236.4 654.5 1235.6 652 1235.6 652 1235.6 649.4 1235.6 649.4 1235.6 646.8 1235.6 646.8 1228.7 644.2 1228.7 644.2 1229.2 641.6 1229.2 641.6 1229.2 639 1229.2 639 1241.4 636.5 1241.4 636.5 1241.4 633.9 1241.4 633.9 1241.4 631.3 1241.4 631.3 1226.4 628.7 1226.4 628.7 1226.4 626.1 1226.4 626.1 1230.8 623.6 1230.8 623.6 1237.8 621 1237.8 621 1237.8 618.4 1237.8 618.4 1237.8 615.8 1237.8 615.8 1223.1 613.2 1223.1 613.2 1223.1 610.6 1223.1 610.6 1237 608.1 1237 608.1 1237 605.5 1237 605.5 1237 602.9 1237 602.9 1233.3 600.3 1233.3 600.3 1233.3 597.7 1233.3 597.7 1233.3 595.2 1233.3 595.2 1230.8 592.6 1230.8 592.6 1230.8 590 1230.8 590 1226.1 587.4 1226.1 587.4 1226.1 584.8 1226.1 584.8 1226.1 582.2 1226.1 582.2 1253.4 579.7 1253.4 579.7 1253.4 577.1 1253.4 577.1 1253.4 574.5 1253.4 574.5 1234.5 571.9 1234.5 571.9 1232.6 569.3 1232.6 569.3 1238.1 566.8 1238.1 566.8 1238.1 564.2 1238.1 564.2 1238.1 561.6 1238.1 561.6 1227 559 1227 559 1226.1 556.4 1226.1 556.4 1235.5 553.8 1235.5 553.8 1241.4 551.3 1241.4 551.3 1241.4 548.7 1241.4 548.7 1241.4 546.1 1241.4 546.1 1230.7 543.5 1230.7 543.5 1233 540.9 1233 540.9 1233 538.4 1233 538.4 1233.6 535.8 1233.6 535.8 1235.9 533.2 1235.9 533.2 1235.9 530.6 1235.9 530.6 1235.9 528 1235.9 528 1228.6 525.4 1228.6 525.4 1228.6 522.9 1228.6 522.9 1228.6 520.3 1228.6 520.3 1234.7 517.7 1234.7 517.7 1234.7 515.1 1234.7 515.1 1234.7 512.5 1234.7 512.5 1233.7 509.9 1233.7 509.9 1233.7 507.4 1233.7 507.4 1235.3 504.8 1235.3 504.8 1235.3 502.2 1235.3 502.2 1239.6 499.6 1239.6 499.6 1239.6 497 1239.6 497 1243.8 494.5 1243.8 494.5 1243.8 491.9 1243.8 491.9 1243.8 489.3 1243.8 489.3 1243.8 486.7 1243.8 486.7 1243.8 484.1 1243.8 484.1 1243.8 481.5 1243.8 481.5 1234.9 479 1234.9 479 1261 476.4 1261 476.4 1261 473.8 1261 473.8 1261 471.2 1261 471.2 1245.2 468.6 1245.2 468.6 1245.2 466.1 1245.2 466.1 1229.9 463.5 1229.9 463.5 1245.8 460.9 1245.8 460.9 1245.8 458.3 1245.8 458.3 1245.8 455.7 1245.8 455.7 1249.3 453.1 1249.3 453.1 1249.3 450.6 1249.3 450.6 1249.3 448 1249.3 448 1245.2 445.4 1245.2 445.4 1234.3 442.8 1234.3 442.8 1227.8 440.2 1227.8 440.2 1235.1 437.7 1235.1 437.7 1235.1 435.1 1235.1 435.1 1235.1 432.5 1235.1 432.5 1235.1 429.9 1235.1 429.9 1235.1 427.3 1235.1 427.3 1235.1 424.7 1235.1 424.7 1234.7 422.2 1234.7 422.2 1246.5 419.6 1246.5 419.6 1246.5 417 1246.5 417 1246.5 414.4 1246.5 414.4 1246.5 411.8 1246.5 411.8 1246.5 409.2 1246.5 409.2 1234.4 406.7 1234.4 406.7 1233.5 404.1 1233.5 404.1 1234.7 401.5 1234.7 401.5 1234.7 398.9 1234.7 398.9 1234.7 396.3 1234.7 396.3 1235 393.8 1235 393.8 1241.3 391.2 1241.3 391.2 1241.3 388.6 1241.3 388.6 1241.3 386 1241.3 386 1238.6 383.4 1238.6 383.4 1238.6 380.8 1238.6 380.8 1238.6 378.3 1238.6 378.3 1235.6 375.7 1235.6 375.7 1235.6 373.1 1235.6 373.1 1229.5 370.5 1229.5 370.5 1229.5 367.9 1229.5 367.9 1232.3 365.4 1232.3 365.4 1239 362.8 1239 362.8 1239 360.2 1239 360.2 1239 357.6 1239 357.6 1246.1 355 1246.1 355 1246.1 352.4 1246.1 352.4 1246.1 349.9 1246.1 349.9 1234.3 347.3 1234.3 347.3 1234.3 344.7 1234.3 344.7 1234.3 342.1 1234.3 342.1 1249.7 339.5 1249.7 339.5 1249.7 337 1249.7 337 1249.7 334.4 1249.7 334.4 1250 331.8 1250 331.8 1250 329.2 1250 329.2 1250 326.6 1250 326.6 1231.9 324 1231.9 324 1231.9 321.5 1231.9 321.5 1232.8 318.9 1232.8 318.9 1232.8 316.3 1232.8 316.3 1232.8 313.7 1232.8 313.7 1229.3 311.1 1229.3 311.1 1234.5 308.6 1234.5 308.6 1236.2 306 1236.2 306 1236.2 303.4 1236.2 303.4 1236.2 300.8 1236.2 300.8 1234.9 298.2 1234.9 298.2 1234.9 295.6 1234.9 295.6 1229.3 293.1 1229.3 293.1 1229.3 290.5 1229.3 290.5 1229 287.9 1229 287.9 1225.4 285.3 1225.4 285.3 1225 282.7 1225 282.7 1232.4 280.1 1232.4 280.1 1232.4 277.6 1232.4 277.6 1232.4 275 1232.4 275 1231.7 272.4 1231.7 272.4 1231.7 269.8 1231.7 269.8 1233.5 267.2 1233.5 267.2 1251.2 264.7 1251.2 264.7 1251.2 262.1 1251.2 262.1 1251.2 259.5 1251.2 259.5 1231.9 256.9 1231.9 256.9 1230.1 254.3 1230.1 254.3 1230.1 251.7 1230.1 251.7 1229.7 249.2 1229.7 249.2 1250 246.6 1250 246.6 1250 244 1250 244 1250 241.4 1250 241.4 1231.4 238.8 1231.4 238.8 1231.4 236.3 1231.4 236.3 1237.1 233.7 1237.1 233.7 1237.1 231.1 1237.1 231.1 1237.1 228.5 1237.1 228.5 1232.8 225.9 1232.8 225.9 1232.1 223.3 1232.1 223.3 1232.1 220.8 1232.1 220.8 1230.1 218.2 1230.1 218.2 1226.9 215.6 1226.9 215.6 1226.9 213 1226.9 213 1234.7 210.4 1234.7 210.4 1236.3 207.9 1236.3 207.9 1236.3 205.3 1236.3 205.3 1236.3 202.7 1236.3 202.7 1236 200.1 1236 200.1 1236 197.5 1236 197.5 1236 194.9 1236 194.9 1230.8 192.4 1230.8 192.4 1230.8 189.8 1230.8Z" fill="#00ff00" shape-rendering="crispEdges"/>
<rect x="1309.6" y="1157" width="2.6" height="30" fill="#ff0000" shape-rendering="crispEdges"/>
<rect x="188.6" y="46.5" width="2158.4" height="1277.7" class="a"/>
<text transform="translate(176.6,65.1) scale(0.965,1)" font-size="58" text-anchor="end">-10</text>
<text transform="translate(176.6,223.6) scale(0.965,1)" font-size="58" text-anchor="end">-15</text>
<text transform="translate(176.6,384.1) scale(0.965,1)" font-size="58" text-anchor="end">-20</text>
<text transform="translate(176.6,543.2) scale(0.965,1)" font-size="58" text-anchor="end">-25</text>
<text transform="translate(176.6,704.4) scale(0.965,1)" font-size="58" text-anchor="end">-30</text>
<text transform="translate(176.6,863) scale(0.965,1)" font-size="58" text-anchor="end">-35</text>
<text transform="translate(176.6,1023.9) scale(0.965,1)" font-size="58" text-anchor="end">-40</text>
<text transform="translate(176.6,1182.9) scale(0.965,1)" font-size="58" text-anchor="end">-45</text>
<text transform="translate(176.6,1342.8) scale(0.965,1)" font-size="58" text-anchor="end">-50</text>
<text transform="translate(188.1,1382.6) scale(0.965,1)" font-size="58" text-anchor="middle">0</text>
<text transform="translate(402.2,1382.6) scale(0.965,1)" font-size="58" text-anchor="middle">1</text>
<text transform="translate(619.3,1382.6) scale(0.965,1)" font-size="58" text-anchor="middle">2</text>
<text transform="translate(833.5,1382.6) scale(0.965,1)" font-size="58" text-anchor="middle">3</text>
<text transform="translate(1050.4,1382.6) scale(0.965,1)" font-size="58" text-anchor="middle">4</text>
<text transform="translate(1267.5,1382.6) scale(0.965,1)" font-size="58" text-anchor="middle">5</text>
<text transform="translate(1481.7,1382.6) scale(0.965,1)" font-size="58" text-anchor="middle">6</text>
<text transform="translate(1698.5,1382.6) scale(0.965,1)" font-size="58" text-anchor="middle">7</text>
<text transform="translate(1912.9,1382.6) scale(0.965,1)" font-size="58" text-anchor="middle">8</text>
<text transform="translate(2130,1382.6) scale(0.965,1)" font-size="58" text-anchor="middle">9</text>
<text transform="translate(2346.5,1382.6) scale(0.965,1)" font-size="58" text-anchor="middle">10</text>
<text transform="translate(2220.5,1471.5) scale(0.945,1)" font-size="58" text-anchor="start">x 10</text>
<text x="2323.5" y="1435.2" font-size="39" text-anchor="start">4</text>
<text x="1263.5" y="1448" font-size="60.5" text-anchor="middle" textLength="435" lengthAdjust="spacingAndGlyphs">Frequency (Hz)</text>
<text transform="translate(71,695) rotate(-90)" font-size="61" text-anchor="middle" textLength="898" lengthAdjust="spacingAndGlyphs">Power Spectrum Magnitude (dB)</text>
<rect x="529.7" y="62.8" width="435.9" height="479.2" fill="#fff"/>
<line x1="533.8" y1="87.6" x2="963.6" y2="87.6" class="g"/>
<line x1="533.8" y1="163.3" x2="963.6" y2="163.3" class="g"/>
<line x1="533.8" y1="236" x2="963.6" y2="236" class="g"/>
<line x1="533.8" y1="311.4" x2="963.6" y2="311.4" class="g"/>
<line x1="533.8" y1="384.6" x2="963.6" y2="384.6" class="g"/>
<line x1="533.8" y1="459.8" x2="963.6" y2="459.8" class="g"/>
<line x1="533.8" y1="532.4" x2="963.6" y2="532.4" class="g"/>
<line x1="746.3" y1="66.9" x2="746.3" y2="540" class="g"/>
<svg x="529.7" y="62.8" width="435.9" height="479.2" viewBox="529.7 62.8 435.9 479.2" overflow="hidden">
<polyline points="526.7,439.5 553.6,441.2 587.2,442.9 620.7,442.9 654.3,439.5 664.4,422.7 671.1,399.2 681.2,338.8 691.3,258.2 703,177.6 714.8,113.8 732.2,70.1 750,93.7 756.1,123.9 766.8,184.3 776.9,251.5 787,318.6 795.4,382.4 801.4,419.4 806.4,432.8 815.5,436.2 839,432.8 855.8,431.1 889.4,432.8 906.2,439.5 923,429.4 939.7,431.1 968.3,446.2" stroke="#ff0000" stroke-width="4.6" fill="none" stroke-linejoin="round"/>
<polyline points="526.7,447.9 553.6,449.6 587.2,458 620.7,461.3 647.6,458 666.1,432.8 676.1,399.2 686.2,338.8 696.3,259.9 708,181 718.1,128.9 732.2,92 750,103.7 755.1,137.3 762.4,184.3 772.5,251.5 782.6,318.6 790.3,372.4 795.4,419.4 799.4,453 803.7,479.8 812.1,491.6 822.2,496.6 839,489.9 855.8,474.8 870.9,469.7 889.4,478.1 904.5,484.2 923,473.1 939.7,474.8 968.3,463" stroke="#ff0000" stroke-width="4.6" fill="none" stroke-linejoin="round"/>
<polyline points="526.7,412.7 541.8,405.9 560.3,416 580.4,436.2 603.9,446.2 637.5,453 647.6,446.2 664.4,436.2 677.8,399.2 691.3,335.4 703,281.7 714.8,231.3 732.2,221.3 751.7,264.9 765.1,328.7 778.6,399.2 788.6,429.4 802.1,442.9 822.2,439.5 855.8,442.9 889.4,441.2 923,446.2 968.3,439.5" stroke="#ff0000" stroke-width="4.6" fill="none" stroke-linejoin="round"/>
<polyline points="526.7,449.6 553.6,453 587.2,459.7 620.7,463 644.2,473.1 654.3,453 671.1,419.4 687.9,369 703,305.2 714.8,264.9 732.2,248.1 751.7,285.1 765.1,345.5 778.6,409.3 792,446.2 805.4,432.8 828.9,446.2 855.8,444.6 889.4,453 923,469.7 968.3,466.4" stroke="#ff0000" stroke-width="4.6" fill="none" stroke-linejoin="round"/>
<polyline points="526.7,423.4 540.1,414.3 560.3,412.7 593.9,431.1 620.7,434.5 637.5,432.8 661,432.8 674.5,416 687.9,372.4 701.3,318.6 716.4,258.2 732.2,223.6 750,244.8 758.4,278.3 770.2,338.8 781.9,385.8 792,400.9 805.4,407.6 822.2,412.7 835.6,399.2 852.4,390.8 869.2,412.7 886,449.6 906.2,453 939.7,442.9 968.3,424.4" stroke="#00ff00" stroke-width="4.6" fill="none" stroke-linejoin="round"/>
<polyline points="526.7,418.7 550.2,429.4 570.4,446.2 593.9,458 620.7,446.2 647.6,439.5 664.4,429.4 674.5,412.7 687.9,372.4 703,318.6 716.4,290.1 732.2,281.7 748.3,318.6 761.8,369 775.2,419.4 788.6,453 802.1,458 815.5,429.4 832.3,405.9 852.4,402.6 869.2,422.7 886,456.3 906.2,461.3 939.7,459.7 968.3,463" stroke="#00ff00" stroke-width="4.6" fill="none" stroke-linejoin="round"/>
<polyline points="526.7,455.6 550.2,463 570.4,473.1 597.2,484.9 620.7,479.8 647.6,473.1 667.8,453 684.5,426.1 701.3,389.2 714.8,358.9 732.2,333.7 750,353.9 761.8,399.2 775.2,453 785.3,473.1 802.1,469.7 815.5,436.2 832.3,416 852.4,411 869.2,429.4 886,463 906.2,466.4 939.7,458 968.3,466.4" stroke="#00ff00" stroke-width="4.6" fill="none" stroke-linejoin="round"/>
<polyline points="526.7,485.9 550.2,476.5 570.4,481.5 597.2,483.2 620.7,476.5 647.6,469.7 667.8,456.3 684.5,432.8 701.3,399.2 716.4,365.6 732.2,345.5 751.7,362.3 763.5,409.3 776.9,456.3 788.6,474.8 802.1,463 815.5,439.5 832.3,419.4 852.4,416 869.2,436.2 886,469.7 906.2,468.1 939.7,464.7 968.3,464.7" stroke="#00ff00" stroke-width="4.6" fill="none" stroke-linejoin="round"/>
</svg>
<rect x="529.7" y="62.8" width="435.9" height="479.2" class="a"/>
<line x1="746.3" y1="542" x2="746.3" y2="536" class="a"/>
<line x1="746.3" y1="62.8" x2="746.3" y2="68.8" class="a"/>
<line x1="529.7" y1="87.6" x2="534.3" y2="87.6" class="a"/>
<line x1="965.6" y1="87.6" x2="961" y2="87.6" class="a"/>
<line x1="529.7" y1="163.3" x2="534.3" y2="163.3" class="a"/>
<line x1="965.6" y1="163.3" x2="961" y2="163.3" class="a"/>
<line x1="529.7" y1="236" x2="534.3" y2="236" class="a"/>
<line x1="965.6" y1="236" x2="961" y2="236" class="a"/>
<line x1="529.7" y1="311.4" x2="534.3" y2="311.4" class="a"/>
<line x1="965.6" y1="311.4" x2="961" y2="311.4" class="a"/>
<line x1="529.7" y1="384.6" x2="534.3" y2="384.6" class="a"/>
<line x1="965.6" y1="384.6" x2="961" y2="384.6" class="a"/>
<line x1="529.7" y1="459.8" x2="534.3" y2="459.8" class="a"/>
<line x1="965.6" y1="459.8" x2="961" y2="459.8" class="a"/>
<line x1="529.7" y1="532.4" x2="534.3" y2="532.4" class="a"/>
<line x1="965.6" y1="532.4" x2="961" y2="532.4" class="a"/>
<text transform="translate(519.5,107.2) scale(0.965,1)" font-size="58" text-anchor="end">-36</text>
<text transform="translate(519.5,182.9) scale(0.965,1)" font-size="58" text-anchor="end">-38</text>
<text transform="translate(519.5,255.6) scale(0.965,1)" font-size="58" text-anchor="end">-40</text>
<text transform="translate(519.5,331) scale(0.965,1)" font-size="58" text-anchor="end">-42</text>
<text transform="translate(519.5,404.2) scale(0.965,1)" font-size="58" text-anchor="end">-44</text>
<text transform="translate(519.5,479.4) scale(0.965,1)" font-size="58" text-anchor="end">-46</text>
<text transform="translate(519.5,552) scale(0.965,1)" font-size="58" text-anchor="end">-48</text>
<text transform="translate(746.3,600.6) scale(0.965,1)" font-size="58" text-anchor="middle">4.01</text>
<text transform="translate(965.6,600.6) scale(0.965,1)" font-size="58" text-anchor="middle">4.02</text>
<text transform="translate(840,689) scale(0.945,1)" font-size="58" text-anchor="start">x 10</text>
<text x="943.5" y="652.3" font-size="39" text-anchor="start">4</text>
<rect x="1407.5" y="64.7" width="435.5" height="480.3" fill="#fff"/>
<line x1="1411.6" y1="155.7" x2="1841" y2="155.7" class="g"/>
<line x1="1411.6" y1="267.5" x2="1841" y2="267.5" class="g"/>
<line x1="1411.6" y1="381.5" x2="1841" y2="381.5" class="g"/>
<line x1="1411.6" y1="493.4" x2="1841" y2="493.4" class="g"/>
<line x1="1567.4" y1="68.8" x2="1567.4" y2="543" class="g"/>
<line x1="1825.8" y1="68.8" x2="1825.8" y2="543" class="g"/>
<svg x="1407.5" y="61.7" width="435.5" height="483.3" viewBox="1407.5 61.7 435.5 483.3" overflow="hidden">
<polyline points="1405.1,510.7 1453.8,503.3 1492.4,399.2 1532.7,207.8 1573,98.7 1614.9,62.8 1656.9,85.3 1698.9,181 1735.8,325.4 1777.8,407.6 1819.8,429.4 1846.6,460.3" stroke="#ff0000" stroke-width="4.6" fill="none" stroke-linejoin="round"/>
<polyline points="1405.1,545.3 1453.8,533.5 1492.4,419.4 1532.7,271.6 1573,167.5 1614.9,130.6 1656.9,154.1 1698.9,254.8 1735.8,412.7 1777.8,458 1819.8,463 1846.6,478.1" stroke="#ff0000" stroke-width="4.6" fill="none" stroke-linejoin="round"/>
<polyline points="1405.1,520.8 1453.8,513.4 1492.4,463 1532.7,335.4 1573,233 1614.9,196.1 1656.9,224.6 1698.9,318.6 1735.8,426.1 1777.8,496.6 1819.8,500 1846.6,500" stroke="#ff0000" stroke-width="4.6" fill="none" stroke-linejoin="round"/>
<polyline points="1405.1,496.6 1453.8,510 1492.4,483.2 1532.7,338.8 1573,236.4 1614.9,201.8 1656.9,229.7 1698.9,323.7 1735.8,463 1777.8,503.3 1819.8,503.3 1846.6,501.6" stroke="#ff0000" stroke-width="4.6" fill="none" stroke-linejoin="round"/>
<polyline points="1735.8,415.3 1756,438.9 1777.8,460.3 1819.8,465.7 1846.6,480.8" stroke="#ff0000" stroke-width="4.6" fill="none" stroke-linejoin="round"/>
<polyline points="1405.1,482.5 1453.8,496.6 1492.4,469.7 1532.7,328.7 1573,228 1614.9,191 1656.9,214.5 1698.9,311.9 1735.8,429.4 1777.8,503.3 1819.8,496.6 1846.6,496.6" stroke="#00ff00" stroke-width="4.6" fill="none" stroke-linejoin="round"/>
<polyline points="1405.1,500 1453.8,506.7 1492.4,476.5 1532.7,345.5 1573,244.8 1614.9,211.2 1656.9,233 1698.9,328.7 1735.8,453 1777.8,510 1819.8,506.7 1846.6,503.3" stroke="#00ff00" stroke-width="4.6" fill="none" stroke-linejoin="round"/>
<polyline points="1405.1,518.4 1453.8,516.8 1492.4,483.2 1532.7,369 1573,273.3 1614.9,241.4 1656.9,263.2 1698.9,352.2 1735.8,469.7 1777.8,513.4 1819.8,513.4 1846.6,510" stroke="#00ff00" stroke-width="4.6" fill="none" stroke-linejoin="round"/>
<polyline points="1405.1,516.8 1453.8,518.4 1492.4,489.9 1532.7,399.2 1573,311.9 1614.9,281.7 1656.9,303.5 1698.9,389.2 1735.8,483.2 1777.8,515.1 1819.8,515.1 1846.6,511.7" stroke="#00ff00" stroke-width="4.6" fill="none" stroke-linejoin="round"/>
</svg>
<rect x="1407.5" y="64.7" width="435.5" height="480.3" class="a"/>
<line x1="1843" y1="155.7" x2="1838.4" y2="155.7" class="a"/>
<line x1="1407.5" y1="155.7" x2="1412.1" y2="155.7" class="a"/>
<text transform="translate(1395.3,175.3) scale(0.965,1)" font-size="58" text-anchor="end">-30</text>
<line x1="1843" y1="267.5" x2="1838.4" y2="267.5" class="a"/>
<line x1="1407.5" y1="267.5" x2="1412.1" y2="267.5" class="a"/>
<text transform="translate(1395.3,287.1) scale(0.965,1)" font-size="58" text-anchor="end">-35</text>
<line x1="1843" y1="381.5" x2="1838.4" y2="381.5" class="a"/>
<line x1="1407.5" y1="381.5" x2="1412.1" y2="381.5" class="a"/>
<text transform="translate(1395.3,401.1) scale(0.965,1)" font-size="58" text-anchor="end">-40</text>
<line x1="1843" y1="493.4" x2="1838.4" y2="493.4" class="a"/>
<line x1="1407.5" y1="493.4" x2="1412.1" y2="493.4" class="a"/>
<text transform="translate(1395.3,513) scale(0.965,1)" font-size="58" text-anchor="end">-45</text>
<text transform="translate(1567.4,603.6) scale(0.965,1)" font-size="58" text-anchor="middle">5.01</text>
<text transform="translate(1825.8,603.6) scale(0.965,1)" font-size="58" text-anchor="middle">5.015</text>
<text transform="translate(1717.5,691) scale(0.945,1)" font-size="58" text-anchor="start">x 10</text>
<text x="1821" y="654.3" font-size="39" text-anchor="start">4</text>
<line x1="959.7" y1="658.3" x2="1032.4" y2="797.5" stroke="#000" stroke-width="4"/>
<polygon points="1046.5,824.4 1013.8,798.6 1032.4,797.5 1044,782.8" fill="#000"/>
<line x1="1395" y1="560.6" x2="1295.8" y2="613.7" stroke="#000" stroke-width="3.4"/>
<polygon points="1269,628 1294.5,595.1 1295.8,613.7 1310.5,625.1" fill="#000"/>
<rect x="1918.7" y="64.7" width="413" height="587.1" fill="#fff" stroke="#000" stroke-width="2.8" shape-rendering="crispEdges"/>
<line x1="1938" y1="105" x2="2043.8" y2="105" stroke="#ff0000" stroke-width="5.2" shape-rendering="crispEdges"/>
<text x="2053" y="126" font-size="58" text-anchor="start" textLength="262" lengthAdjust="spacingAndGlyphs">Type-C1 1</text>
<line x1="1938" y1="176.6" x2="2043.8" y2="176.6" stroke="#ff0000" stroke-width="5.2" shape-rendering="crispEdges"/>
<text x="2053" y="198.3" font-size="58" text-anchor="start" textLength="262" lengthAdjust="spacingAndGlyphs">Type-C1 2</text>
<line x1="1938" y1="248.2" x2="2043.8" y2="248.2" stroke="#ff0000" stroke-width="5.2" shape-rendering="crispEdges"/>
<text x="2053" y="270.5" font-size="58" text-anchor="start" textLength="262" lengthAdjust="spacingAndGlyphs">Type-C1 3</text>
<line x1="1938" y1="319.8" x2="2043.8" y2="319.8" stroke="#ff0000" stroke-width="5.2" shape-rendering="crispEdges"/>
<text x="2053" y="342.8" font-size="58" text-anchor="start" textLength="262" lengthAdjust="spacingAndGlyphs">Type-C1 4</text>
<line x1="1938" y1="391.4" x2="2043.8" y2="391.4" stroke="#00ff00" stroke-width="5.2" shape-rendering="crispEdges"/>
<text x="2053" y="415" font-size="58" text-anchor="start" textLength="262" lengthAdjust="spacingAndGlyphs">Type-C2 1</text>
<line x1="1938" y1="463" x2="2043.8" y2="463" stroke="#00ff00" stroke-width="5.2" shape-rendering="crispEdges"/>
<text x="2053" y="487.3" font-size="58" text-anchor="start" textLength="262" lengthAdjust="spacingAndGlyphs">Type-C2 2</text>
<line x1="1938" y1="534.6" x2="2043.8" y2="534.6" stroke="#00ff00" stroke-width="5.2" shape-rendering="crispEdges"/>
<text x="2053" y="559.6" font-size="58" text-anchor="start" textLength="262" lengthAdjust="spacingAndGlyphs">Type-C2 3</text>
<line x1="1938" y1="606.2" x2="2043.8" y2="606.2" stroke="#00ff00" stroke-width="5.2" shape-rendering="crispEdges"/>
<text x="2053" y="631.8" font-size="58" text-anchor="start" textLength="262" lengthAdjust="spacingAndGlyphs">Type-C2 4</text>
</svg>
</body>
</html>
